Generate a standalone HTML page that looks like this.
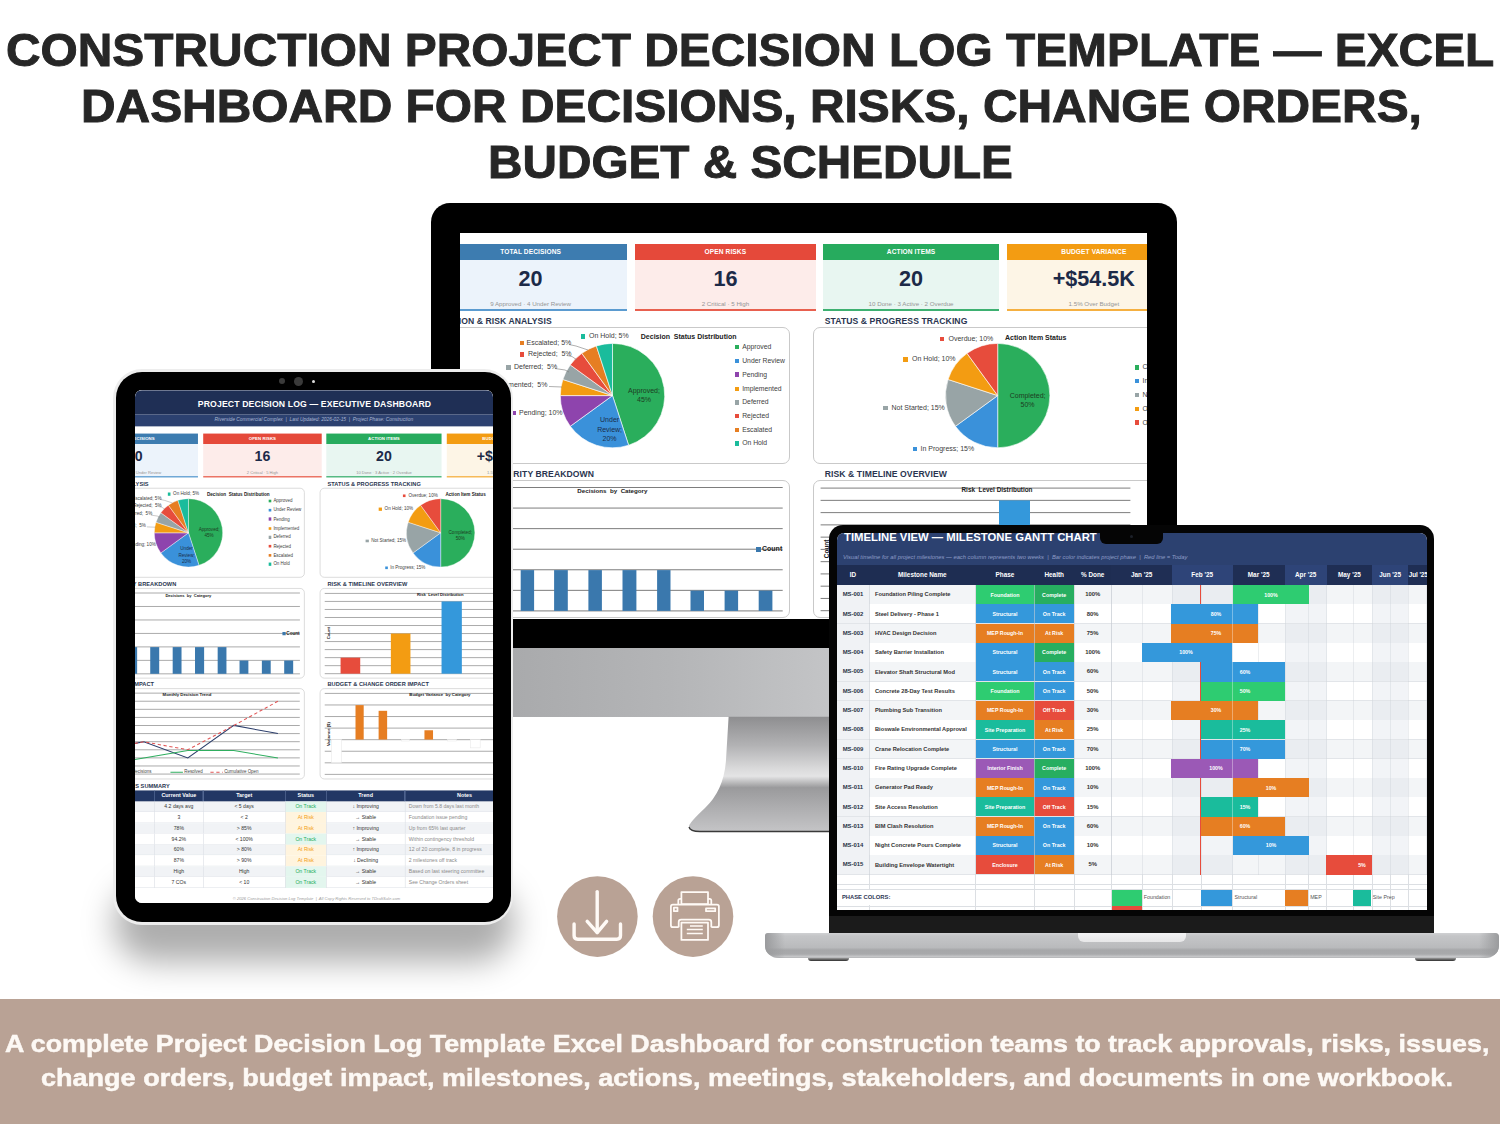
<!DOCTYPE html>
<html><head><meta charset="utf-8"><style>
*{margin:0;padding:0;box-sizing:border-box;}
html,body{width:1500px;height:1124px;overflow:hidden;background:#fff;}
body{position:relative;font-family:"Liberation Sans", sans-serif;}
div{position:absolute;}
.t{font-weight:bold;color:#262626;white-space:nowrap;transform-origin:0 0;-webkit-text-stroke:0.9px #262626;}
.b{-webkit-text-stroke:0.5px #fdf9f5;}
</style></head><body>

<div class="t" id="title0" style="left:6.0px;top:24.52px;font-size:45.5px;line-height:52.32px;transform:scaleX(1.052);">CONSTRUCTION PROJECT DECISION LOG TEMPLATE — EXCEL</div>
<div class="t" id="title1" style="left:81px;top:80.72px;font-size:45.5px;line-height:52.32px;transform:scaleX(1.0524);">DASHBOARD FOR DECISIONS, RISKS, CHANGE ORDERS,</div>
<div class="t" id="title2" style="left:488.3px;top:136.62px;font-size:45.5px;line-height:52.32px;transform:scaleX(1.0487);">BUDGET &amp; SCHEDULE</div>
<div style="left:430.70px;top:202.70px;width:746.60px;height:457.30px;background:#000;border-radius:19px 19px 0 0;"></div><div style="left:430.70px;top:647.50px;width:746.60px;height:69.30px;background:linear-gradient(90deg,#a6a7a9 0%,#a9aaac 11%,#b4b5b7 32%,#c3c4c6 53%,#c8c9cb 100%);"></div><svg style="position:absolute;left:0;top:0" width="1500" height="1124"><defs><linearGradient id="stg" x1="0" y1="0" x2="0" y2="1"><stop offset="0" stop-color="#8e8e90"/><stop offset="0.25" stop-color="#b2b2b4"/><stop offset="0.45" stop-color="#d9d9da"/><stop offset="0.52" stop-color="#e4e4e5"/><stop offset="0.62" stop-color="#9a9a9c"/><stop offset="0.8" stop-color="#aeaeb0"/><stop offset="1" stop-color="#c4c4c6"/></linearGradient></defs><path d="M728.6,716.8 L726,760 Q724,790 705,808 Q690,822 689,826 L689,829 Q690,831 700,831 L921,831 Q930,831 930,826 Q929,822 914,808 Q895,790 893,760 L890.4,716.8 Z" fill="url(#stg)"/><path d="M689,827 Q690,831.5 700,831.5 L921,831.5" stroke="#3a3a3a" stroke-width="1.3" fill="none"/></svg><div style="left:460px;top:233px;width:687.3px;height:386px;overflow:hidden;background:#fff;"><div style="left:-460px;top:-233px;width:1500px;height:1124px;"><div style="left:380px;top:170px;width:840px;height:810px;background:#fff;"></div><div style="left:380px;top:177.50px;width:840px;height:37.10px;background:#1f2f55;"></div><div style="left:505px;top:191.35px;width:600px;text-align:center;font-size:13.25px;line-height:15.90px;color:#fff;font-weight:bold;white-space:nowrap;letter-spacing:0.2px;">PROJECT DECISION LOG — EXECUTIVE DASHBOARD</div><div style="left:380px;top:214.60px;width:840px;height:18.30px;background:#2c4170;"></div><div style="left:504px;top:219.13px;width:600px;text-align:center;font-size:7.45px;line-height:8.94px;color:#a9b6d3;font-weight:normal;white-space:nowrap;font-style:italic;">Riverside Commercial Complex &nbsp;|&nbsp; Last Updated: 2026-02-15 &nbsp;|&nbsp; Project Phase: Construction</div><div style="left:434px;top:244.20px;width:193.20px;height:15.80px;background:#3d7cb0;"></div><div style="left:434px;top:260px;width:193.20px;height:49.20px;background:#ecf3fb;"></div><div style="left:434px;top:309.20px;width:193.20px;height:1.80px;background:#5b9bd0;"></div><div style="left:434px;top:248.34px;width:193.20px;text-align:center;font-size:6.60px;line-height:7.92px;color:#fff;font-weight:bold;white-space:nowrap;letter-spacing:0.1px;">TOTAL DECISIONS</div><div style="left:434px;top:266.04px;width:193.20px;text-align:center;font-size:21.60px;line-height:25.92px;color:#1c2a48;font-weight:bold;white-space:nowrap;">20</div><div style="left:434px;top:299.58px;width:193.20px;text-align:center;font-size:6.20px;line-height:7.44px;color:#959595;font-weight:normal;white-space:nowrap;">9 Approved · 4 Under Review</div><div style="left:635px;top:244.20px;width:180.80px;height:15.80px;background:#e5493a;"></div><div style="left:635px;top:260px;width:180.80px;height:49.20px;background:#fdecea;"></div><div style="left:635px;top:309.20px;width:180.80px;height:1.80px;background:#e8604f;"></div><div style="left:635px;top:248.34px;width:180.80px;text-align:center;font-size:6.60px;line-height:7.92px;color:#fff;font-weight:bold;white-space:nowrap;letter-spacing:0.1px;">OPEN RISKS</div><div style="left:635px;top:266.04px;width:180.80px;text-align:center;font-size:21.60px;line-height:25.92px;color:#1c2a48;font-weight:bold;white-space:nowrap;">16</div><div style="left:635px;top:299.58px;width:180.80px;text-align:center;font-size:6.20px;line-height:7.44px;color:#959595;font-weight:normal;white-space:nowrap;">2 Critical · 5 High</div><div style="left:823.30px;top:244.20px;width:175.50px;height:15.80px;background:#27ab5e;"></div><div style="left:823.30px;top:260px;width:175.50px;height:49.20px;background:#e8f6f1;"></div><div style="left:823.30px;top:309.20px;width:175.50px;height:1.80px;background:#3db071;"></div><div style="left:823.30px;top:248.34px;width:175.50px;text-align:center;font-size:6.60px;line-height:7.92px;color:#fff;font-weight:bold;white-space:nowrap;letter-spacing:0.1px;">ACTION ITEMS</div><div style="left:823.30px;top:266.04px;width:175.50px;text-align:center;font-size:21.60px;line-height:25.92px;color:#1c2a48;font-weight:bold;white-space:nowrap;">20</div><div style="left:823.30px;top:299.58px;width:175.50px;text-align:center;font-size:6.20px;line-height:7.44px;color:#959595;font-weight:normal;white-space:nowrap;">10 Done · 3 Active · 2 Overdue</div><div style="left:1006.70px;top:244.20px;width:174.30px;height:15.80px;background:#f39c12;"></div><div style="left:1006.70px;top:260px;width:174.30px;height:49.20px;background:#fdf5e6;"></div><div style="left:1006.70px;top:309.20px;width:174.30px;height:1.80px;background:#f5b041;"></div><div style="left:1006.70px;top:248.34px;width:174.30px;text-align:center;font-size:6.60px;line-height:7.92px;color:#fff;font-weight:bold;white-space:nowrap;letter-spacing:0.1px;">BUDGET VARIANCE</div><div style="left:1006.70px;top:266.04px;width:174.30px;text-align:center;font-size:21.60px;line-height:25.92px;color:#1c2a48;font-weight:bold;white-space:nowrap;">+$54.5K</div><div style="left:1006.70px;top:299.58px;width:174.30px;text-align:center;font-size:6.20px;line-height:7.44px;color:#959595;font-weight:normal;white-space:nowrap;">1.5% Over Budget</div><div style="left:432px;top:315.64px;font-size:8.60px;line-height:10.32px;color:#2a3550;font-weight:bold;white-space:nowrap;letter-spacing:0.08px;">DECISION &amp; RISK ANALYSIS</div><div style="left:824.80px;top:315.64px;font-size:8.60px;line-height:10.32px;color:#2a3550;font-weight:bold;white-space:nowrap;letter-spacing:0.08px;">STATUS &amp; PROGRESS TRACKING</div><div style="left:418px;top:326.60px;width:372px;height:137px;border:1px solid #c9c9c9;border-radius:7px;background:#fff;"></div><div style="left:812.50px;top:326.60px;width:377.50px;height:137px;border:1px solid #c9c9c9;border-radius:7px;background:#fff;"></div><div style="left:294px;top:468.84px;width:300px;text-align:right;font-size:8.60px;line-height:10.32px;color:#2a3550;font-weight:bold;white-space:nowrap;letter-spacing:0.08px;">CATEGORY &amp; PRIORITY BREAKDOWN</div><div style="left:824.80px;top:468.84px;font-size:8.60px;line-height:10.32px;color:#2a3550;font-weight:bold;white-space:nowrap;letter-spacing:0.08px;">RISK &amp; TIMELINE OVERVIEW</div><div style="left:418px;top:480.20px;width:372px;height:137.80px;border:1px solid #c9c9c9;border-radius:7px;background:#fff;"></div><div style="left:812.50px;top:480.20px;width:377.50px;height:137.80px;border:1px solid #c9c9c9;border-radius:7px;background:#fff;"></div><div style="left:260px;top:621.64px;width:300px;text-align:right;font-size:8.60px;line-height:10.32px;color:#2a3550;font-weight:bold;white-space:nowrap;letter-spacing:0.08px;">DECISION TIMELINE &amp; IMPACT</div><div style="left:824.80px;top:621.64px;font-size:8.60px;line-height:10.32px;color:#2a3550;font-weight:bold;white-space:nowrap;letter-spacing:0.08px;">BUDGET &amp; CHANGE ORDER IMPACT</div><div style="left:418px;top:632.60px;width:372px;height:139.40px;border:1px solid #c9c9c9;border-radius:7px;background:#fff;"></div><div style="left:812.50px;top:632.60px;width:377.50px;height:139.40px;border:1px solid #c9c9c9;border-radius:7px;background:#fff;"></div><svg style="position:absolute;left:0;top:0;overflow:visible" width="1" height="1"><path d="M612.50,395.60 L612.50,343.40 A52.2,52.2 0 0 1 628.63,445.25 Z" fill="#2aae5c" stroke="#fff" stroke-width="0.6" stroke-linejoin="round"/><path d="M612.50,395.60 L628.63,445.25 A52.2,52.2 0 0 1 570.27,426.28 Z" fill="#3a91da" stroke="#fff" stroke-width="0.6" stroke-linejoin="round"/><path d="M612.50,395.60 L570.27,426.28 A52.2,52.2 0 0 1 560.30,395.60 Z" fill="#8e44ad" stroke="#fff" stroke-width="0.6" stroke-linejoin="round"/><path d="M612.50,395.60 L560.30,395.60 A52.2,52.2 0 0 1 562.85,379.47 Z" fill="#f39c12" stroke="#fff" stroke-width="0.6" stroke-linejoin="round"/><path d="M612.50,395.60 L562.85,379.47 A52.2,52.2 0 0 1 570.27,364.92 Z" fill="#98a4a6" stroke="#fff" stroke-width="0.6" stroke-linejoin="round"/><path d="M612.50,395.60 L570.27,364.92 A52.2,52.2 0 0 1 581.82,353.37 Z" fill="#e74c3c" stroke="#fff" stroke-width="0.6" stroke-linejoin="round"/><path d="M612.50,395.60 L581.82,353.37 A52.2,52.2 0 0 1 596.37,345.95 Z" fill="#e67e22" stroke="#fff" stroke-width="0.6" stroke-linejoin="round"/><path d="M612.50,395.60 L596.37,345.95 A52.2,52.2 0 0 1 612.50,343.40 Z" fill="#1abc9c" stroke="#fff" stroke-width="0.6" stroke-linejoin="round"/><path d="M997.70,395.60 L997.70,343.40 A52.2,52.2 0 0 1 997.70,447.80 Z" fill="#2aae5c" stroke="#fff" stroke-width="0.6" stroke-linejoin="round"/><path d="M997.70,395.60 L997.70,447.80 A52.2,52.2 0 0 1 955.47,426.28 Z" fill="#3a91da" stroke="#fff" stroke-width="0.6" stroke-linejoin="round"/><path d="M997.70,395.60 L955.47,426.28 A52.2,52.2 0 0 1 948.05,379.47 Z" fill="#98a4a6" stroke="#fff" stroke-width="0.6" stroke-linejoin="round"/><path d="M997.70,395.60 L948.05,379.47 A52.2,52.2 0 0 1 967.02,353.37 Z" fill="#f39c12" stroke="#fff" stroke-width="0.6" stroke-linejoin="round"/><path d="M997.70,395.60 L967.02,353.37 A52.2,52.2 0 0 1 997.70,343.40 Z" fill="#e74c3c" stroke="#fff" stroke-width="0.6" stroke-linejoin="round"/><g stroke="#7a7a7a" stroke-width="0.6" fill="none"><path d="M569,344.5 L576,346 L588,350"/><path d="M567,355.5 L572,356.5 L577,360"/><path d="M555,368.5 L565,370 L569,372"/><path d="M549,386.5 L562,387"/></g><g stroke="#6e6e6e" stroke-width="0.9"><line x1="428" y1="487.50" x2="782.7" y2="487.50"/><line x1="428" y1="508.07" x2="782.7" y2="508.07"/><line x1="428" y1="528.64" x2="782.7" y2="528.64"/><line x1="428" y1="549.21" x2="782.7" y2="549.21"/><line x1="428" y1="569.78" x2="782.7" y2="569.78"/><line x1="428" y1="590.35" x2="782.7" y2="590.35"/><line x1="428" y1="610.92" x2="782.7" y2="610.92"/><line x1="820.6" y1="488.10" x2="1130.4" y2="488.10"/><line x1="820.6" y1="500.36" x2="1130.4" y2="500.36"/><line x1="820.6" y1="512.62" x2="1130.4" y2="512.62"/><line x1="820.6" y1="524.88" x2="1130.4" y2="524.88"/><line x1="820.6" y1="537.14" x2="1130.4" y2="537.14"/><line x1="820.6" y1="549.40" x2="1130.4" y2="549.40"/><line x1="820.6" y1="561.66" x2="1130.4" y2="561.66"/><line x1="820.6" y1="573.92" x2="1130.4" y2="573.92"/><line x1="820.6" y1="586.18" x2="1130.4" y2="586.18"/><line x1="820.6" y1="598.44" x2="1130.4" y2="598.44"/><line x1="820.6" y1="610.70" x2="1130.4" y2="610.70"/><line x1="428" y1="640.40" x2="782.5" y2="640.40"/><line x1="428" y1="652.76" x2="782.5" y2="652.76"/><line x1="428" y1="665.12" x2="782.5" y2="665.12"/><line x1="428" y1="677.48" x2="782.5" y2="677.48"/><line x1="428" y1="689.84" x2="782.5" y2="689.84"/><line x1="428" y1="702.20" x2="782.5" y2="702.20"/><line x1="428" y1="714.56" x2="782.5" y2="714.56"/><line x1="428" y1="726.92" x2="782.5" y2="726.92"/><line x1="428" y1="739.28" x2="782.5" y2="739.28"/><line x1="428" y1="751.64" x2="782.5" y2="751.64"/><line x1="428" y1="764.00" x2="782.5" y2="764.00"/><line x1="820.6" y1="640.80" x2="1130.4" y2="640.80"/><line x1="820.6" y1="658.47" x2="1130.4" y2="658.47"/><line x1="820.6" y1="676.14" x2="1130.4" y2="676.14"/><line x1="820.6" y1="693.81" x2="1130.4" y2="693.81"/><line x1="820.6" y1="711.48" x2="1130.4" y2="711.48"/><line x1="820.6" y1="729.15" x2="1130.4" y2="729.15"/><line x1="820.6" y1="746.82" x2="1130.4" y2="746.82"/><line x1="820.6" y1="764.49" x2="1130.4" y2="764.49"/></g><rect x="520.7" y="570.1" width="13.40" height="40.80" fill="#3a78ad"/><rect x="554.1" y="570.1" width="13.70" height="40.80" fill="#3a78ad"/><rect x="588.4" y="570.1" width="13.50" height="40.80" fill="#3a78ad"/><rect x="622.5" y="570.1" width="13.90" height="40.80" fill="#3a78ad"/><rect x="657.1" y="570.1" width="13.40" height="40.80" fill="#3a78ad"/><rect x="690.5" y="590.6" width="13.50" height="20.30" fill="#3a78ad"/><rect x="724.6" y="590.6" width="13.50" height="20.30" fill="#3a78ad"/><rect x="758.7" y="590.6" width="13.70" height="20.30" fill="#3a78ad"/><rect x="486.8" y="570.1" width="13.50" height="40.80" fill="#3a78ad"/><rect x="452.7" y="590.6" width="13.50" height="20.30" fill="#3a78ad"/><rect x="844.8" y="586.2" width="30.00" height="24.50" fill="#e74c3c"/><rect x="921.6" y="549.4" width="29.90" height="61.30" fill="#f39c12"/><rect x="999" y="500.4" width="31.00" height="110.30" fill="#3498db"/><polyline fill="none" stroke="#2c3e6b" stroke-width="1.6" points="477,726.9 544.3,714.7 611.5,739.5 681.7,689.7 749.1,702.2"/><polyline fill="none" stroke="#2fae5f" stroke-width="1.6" points="477,751.6 544.3,739.3 611.5,727.9 681.7,727.9 749.1,739.5"/><polyline fill="none" stroke="#e05555" stroke-width="1.6" stroke-dasharray="5,4" points="477,726.9 544.3,714.7 611.5,726.9 681.7,689.8 749.1,652.8"/><line x1="585" y1="761.3" x2="604" y2="761.3" stroke="#2fae5f" stroke-width="1.6"/><line x1="646" y1="761.3" x2="665" y2="761.3" stroke="#e05555" stroke-width="1.6" stroke-dasharray="5,4"/><rect x="830.8" y="711.3" width="15.40" height="35.30" fill="#fff" stroke="#e6e6e6" stroke-width="0.8"/><rect x="867.6" y="658.7" width="12.50" height="52.60" fill="#e67e22"/><rect x="902.9" y="667.4" width="13.00" height="43.90" fill="#e67e22"/><rect x="937.8" y="711.3" width="12.20" height="2.20" fill="#fff" stroke="#e6e6e6" stroke-width="0.8"/><rect x="972.9" y="697.1" width="13.10" height="14.20" fill="#e67e22"/><rect x="1008" y="711.3" width="14.00" height="2.20" fill="#fff" stroke="#e6e6e6" stroke-width="0.8"/><rect x="1043" y="711.3" width="15.00" height="12.70" fill="#fff" stroke="#e6e6e6" stroke-width="0.8"/></svg><div style="left:640.80px;top:332.80px;font-size:7px;line-height:8.40px;color:#222;font-weight:bold;white-space:nowrap;">Decision &nbsp;Status Distribution</div><div style="left:580.80px;top:334.20px;width:4.40px;height:4.40px;background:#1abc9c;"></div><div style="left:589px;top:332.20px;font-size:7px;line-height:8.40px;color:#404040;font-weight:normal;white-space:nowrap;">On Hold; 5%</div><div style="left:519.50px;top:341.10px;width:4.40px;height:4.40px;background:#e67e22;"></div><div style="left:526.50px;top:339.10px;font-size:7px;line-height:8.40px;color:#404040;font-weight:normal;white-space:nowrap;">Escalated; 5%</div><div style="left:520px;top:352.20px;width:4.40px;height:4.40px;background:#e74c3c;"></div><div style="left:528px;top:350.20px;font-size:7px;line-height:8.40px;color:#404040;font-weight:normal;white-space:nowrap;">Rejected; &nbsp;5%</div><div style="left:506.20px;top:365.30px;width:4.40px;height:4.40px;background:#98a4a6;"></div><div style="left:514px;top:363.30px;font-size:7px;line-height:8.40px;color:#404040;font-weight:normal;white-space:nowrap;">Deferred; &nbsp;5%</div><div style="left:484px;top:383.20px;width:4.40px;height:4.40px;background:#f39c12;"></div><div style="left:491px;top:381.20px;font-size:7px;line-height:8.40px;color:#404040;font-weight:normal;white-space:nowrap;">Implemented; &nbsp;5%</div><div style="left:512.10px;top:410.60px;width:4.40px;height:4.40px;background:#8e44ad;"></div><div style="left:519px;top:408.60px;font-size:7px;line-height:8.40px;color:#404040;font-weight:normal;white-space:nowrap;">Pending; 10%</div><div style="left:614px;top:386.80px;width:60px;text-align:center;font-size:7px;line-height:8.40px;color:#1d3d22;font-weight:normal;white-space:nowrap;">Approved;</div><div style="left:614px;top:395.50px;width:60px;text-align:center;font-size:7px;line-height:8.40px;color:#1d3d22;font-weight:normal;white-space:nowrap;">45%</div><div style="left:579.60px;top:416.40px;width:60px;text-align:center;font-size:7px;line-height:8.40px;color:#1b2e4a;font-weight:normal;white-space:nowrap;">Under</div><div style="left:579.60px;top:425.60px;width:60px;text-align:center;font-size:7px;line-height:8.40px;color:#1b2e4a;font-weight:normal;white-space:nowrap;">Review;</div><div style="left:579.60px;top:434.80px;width:60px;text-align:center;font-size:7px;line-height:8.40px;color:#1b2e4a;font-weight:normal;white-space:nowrap;">20%</div><div style="left:734.50px;top:345.10px;width:4.40px;height:4.40px;background:#2aae5c;"></div><div style="left:742.20px;top:343.22px;font-size:6.80px;line-height:8.16px;color:#404040;font-weight:normal;white-space:nowrap;">Approved</div><div style="left:734.50px;top:358.80px;width:4.40px;height:4.40px;background:#3a91da;"></div><div style="left:742.20px;top:356.92px;font-size:6.80px;line-height:8.16px;color:#404040;font-weight:normal;white-space:nowrap;">Under Review</div><div style="left:734.50px;top:372.40px;width:4.40px;height:4.40px;background:#8e44ad;"></div><div style="left:742.20px;top:370.52px;font-size:6.80px;line-height:8.16px;color:#404040;font-weight:normal;white-space:nowrap;">Pending</div><div style="left:734.50px;top:386.50px;width:4.40px;height:4.40px;background:#f39c12;"></div><div style="left:742.20px;top:384.62px;font-size:6.80px;line-height:8.16px;color:#404040;font-weight:normal;white-space:nowrap;">Implemented</div><div style="left:734.50px;top:400.30px;width:4.40px;height:4.40px;background:#98a4a6;"></div><div style="left:742.20px;top:398.42px;font-size:6.80px;line-height:8.16px;color:#404040;font-weight:normal;white-space:nowrap;">Deferred</div><div style="left:734.50px;top:414.10px;width:4.40px;height:4.40px;background:#e74c3c;"></div><div style="left:742.20px;top:412.22px;font-size:6.80px;line-height:8.16px;color:#404040;font-weight:normal;white-space:nowrap;">Rejected</div><div style="left:734.50px;top:427.60px;width:4.40px;height:4.40px;background:#e67e22;"></div><div style="left:742.20px;top:425.72px;font-size:6.80px;line-height:8.16px;color:#404040;font-weight:normal;white-space:nowrap;">Escalated</div><div style="left:734.50px;top:441.20px;width:4.40px;height:4.40px;background:#1abc9c;"></div><div style="left:742.20px;top:439.32px;font-size:6.80px;line-height:8.16px;color:#404040;font-weight:normal;white-space:nowrap;">On Hold</div><div style="left:1005px;top:333.60px;font-size:7px;line-height:8.40px;color:#222;font-weight:bold;white-space:nowrap;">Action Item Status</div><div style="left:940.10px;top:336.50px;width:4.40px;height:4.40px;background:#e74c3c;"></div><div style="left:948.50px;top:334.50px;font-size:7px;line-height:8.40px;color:#404040;font-weight:normal;white-space:nowrap;">Overdue; 10%</div><div style="left:903.30px;top:357.20px;width:4.40px;height:4.40px;background:#f39c12;"></div><div style="left:912px;top:355.20px;font-size:7px;line-height:8.40px;color:#404040;font-weight:normal;white-space:nowrap;">On Hold; 10%</div><div style="left:883.30px;top:406px;width:4.40px;height:4.40px;background:#98a4a6;"></div><div style="left:891.50px;top:404px;font-size:7px;line-height:8.40px;color:#404040;font-weight:normal;white-space:nowrap;">Not Started; 15%</div><div style="left:912.80px;top:446.50px;width:4.40px;height:4.40px;background:#3a91da;"></div><div style="left:920.50px;top:444.50px;font-size:7px;line-height:8.40px;color:#404040;font-weight:normal;white-space:nowrap;">In Progress; 15%</div><div style="left:997.60px;top:392.30px;width:60px;text-align:center;font-size:7px;line-height:8.40px;color:#1d3d22;font-weight:normal;white-space:nowrap;">Completed;</div><div style="left:997.60px;top:401.30px;width:60px;text-align:center;font-size:7px;line-height:8.40px;color:#1d3d22;font-weight:normal;white-space:nowrap;">50%</div><div style="left:1134.80px;top:365.30px;width:4.40px;height:4.40px;background:#2aae5c;"></div><div style="left:1142.50px;top:363.42px;font-size:6.80px;line-height:8.16px;color:#404040;font-weight:normal;white-space:nowrap;">Completed</div><div style="left:1134.80px;top:379.10px;width:4.40px;height:4.40px;background:#3a91da;"></div><div style="left:1142.50px;top:377.22px;font-size:6.80px;line-height:8.16px;color:#404040;font-weight:normal;white-space:nowrap;">In Progress</div><div style="left:1134.80px;top:392.80px;width:4.40px;height:4.40px;background:#98a4a6;"></div><div style="left:1142.50px;top:390.92px;font-size:6.80px;line-height:8.16px;color:#404040;font-weight:normal;white-space:nowrap;">Not Started</div><div style="left:1134.80px;top:406.60px;width:4.40px;height:4.40px;background:#f39c12;"></div><div style="left:1142.50px;top:404.72px;font-size:6.80px;line-height:8.16px;color:#404040;font-weight:normal;white-space:nowrap;">On Hold</div><div style="left:1134.80px;top:420.40px;width:4.40px;height:4.40px;background:#e74c3c;"></div><div style="left:1142.50px;top:418.52px;font-size:6.80px;line-height:8.16px;color:#404040;font-weight:normal;white-space:nowrap;">Overdue</div><div style="left:512.40px;top:486.68px;width:200px;text-align:center;font-size:6.20px;line-height:7.44px;color:#222;font-weight:bold;white-space:nowrap;">Decisions &nbsp;by &nbsp;Category</div><div style="left:756.20px;top:547.30px;width:4.40px;height:4.40px;background:#3a78ad;"></div><div style="left:762px;top:545.30px;font-size:7px;line-height:8.40px;color:#222;font-weight:bold;white-space:nowrap;">Count</div><div style="left:897px;top:486.16px;width:200px;text-align:center;font-size:6.40px;line-height:7.68px;color:#222;font-weight:bold;white-space:nowrap;">Risk &nbsp;Level Distribution</div><div style="left:807px;top:545.10px;width:40px;text-align:center;font-size:6.50px;line-height:7.80px;color:#222;font-weight:bold;white-space:nowrap;transform:rotate(-90deg);">Count</div><div style="left:510.20px;top:638.84px;width:200px;text-align:center;font-size:6.60px;line-height:7.92px;color:#222;font-weight:bold;white-space:nowrap;">Monthly Decision Trend</div><div style="left:490px;top:760.50px;width:19px;height:1.50px;background:#2c3e6b;"></div><div style="left:511px;top:757.22px;font-size:6.80px;line-height:8.16px;color:#444;font-weight:normal;white-space:nowrap;">New Decisions</div><div style="left:606px;top:757.22px;font-size:6.80px;line-height:8.16px;color:#444;font-weight:normal;white-space:nowrap;">Resolved</div><div style="left:667px;top:757.22px;font-size:6.80px;line-height:8.16px;color:#444;font-weight:normal;white-space:nowrap;">Cumulative Open</div><div style="left:896.50px;top:638.84px;width:200px;text-align:center;font-size:6.60px;line-height:7.92px;color:#222;font-weight:bold;white-space:nowrap;">Budget Variance &nbsp;by Category</div><div style="left:797.40px;top:699.10px;width:60px;text-align:center;font-size:6.50px;line-height:7.80px;color:#222;font-weight:bold;white-space:nowrap;transform:rotate(-90deg);">Variance ($)</div><div style="left:284px;top:777.04px;width:300px;text-align:right;font-size:8.60px;line-height:10.32px;color:#2a3550;font-weight:bold;white-space:nowrap;letter-spacing:0.08px;">KEY METRICS SUMMARY</div><div style="left:418px;top:788.50px;width:707px;height:17.10px;background:#223764;"></div><div style="left:418px;top:792.08px;width:142.60px;text-align:center;font-size:8.20px;line-height:9.84px;color:#fff;font-weight:bold;white-space:nowrap;">Metric</div><div style="left:560.60px;top:792.08px;width:74.40px;text-align:center;font-size:8.20px;line-height:9.84px;color:#fff;font-weight:bold;white-space:nowrap;">Current Value</div><div style="left:560px;top:788.50px;width:1.20px;height:17.10px;background:#5a6f9a;"></div><div style="left:635px;top:792.08px;width:125.20px;text-align:center;font-size:8.20px;line-height:9.84px;color:#fff;font-weight:bold;white-space:nowrap;">Target</div><div style="left:634.40px;top:788.50px;width:1.20px;height:17.10px;background:#5a6f9a;"></div><div style="left:760.20px;top:792.08px;width:62.90px;text-align:center;font-size:8.20px;line-height:9.84px;color:#fff;font-weight:bold;white-space:nowrap;">Status</div><div style="left:759.60px;top:788.50px;width:1.20px;height:17.10px;background:#5a6f9a;"></div><div style="left:823.10px;top:792.08px;width:119.90px;text-align:center;font-size:8.20px;line-height:9.84px;color:#fff;font-weight:bold;white-space:nowrap;">Trend</div><div style="left:822.50px;top:788.50px;width:1.20px;height:17.10px;background:#5a6f9a;"></div><div style="left:943px;top:792.08px;width:182px;text-align:center;font-size:8.20px;line-height:9.84px;color:#fff;font-weight:bold;white-space:nowrap;">Notes</div><div style="left:942.40px;top:788.50px;width:1.20px;height:17.10px;background:#5a6f9a;"></div><div style="left:418px;top:805.60px;width:707px;height:16.54px;background:#f1f3f6;border-bottom:1px solid #e4e7ec;"></div><div style="left:760.20px;top:805.60px;width:62.90px;height:16.54px;background:#e3f6ee;"></div><div style="left:560.10px;top:805.60px;width:1px;height:16.54px;background:#dde1e7;"></div><div style="left:634.50px;top:805.60px;width:1px;height:16.54px;background:#dde1e7;"></div><div style="left:759.70px;top:805.60px;width:1px;height:16.54px;background:#dde1e7;"></div><div style="left:822.60px;top:805.60px;width:1px;height:16.54px;background:#dde1e7;"></div><div style="left:942.50px;top:805.60px;width:1px;height:16.54px;background:#dde1e7;"></div><div style="left:562.80px;top:809.19px;width:70px;text-align:center;font-size:7.80px;line-height:9.36px;color:#333;font-weight:normal;white-space:nowrap;">4.2 days avg</div><div style="left:637.60px;top:809.19px;width:120px;text-align:center;font-size:7.80px;line-height:9.36px;color:#333;font-weight:normal;white-space:nowrap;">&lt; 5 days</div><div style="left:761.65px;top:809.19px;width:60px;text-align:center;font-size:7.80px;line-height:9.36px;color:#27ae60;font-weight:normal;white-space:nowrap;">On Track</div><div style="left:828.05px;top:809.19px;width:110px;text-align:center;font-size:7.80px;line-height:9.36px;color:#333;font-weight:normal;white-space:nowrap;">↓ Improving</div><div style="left:949px;top:809.19px;font-size:7.80px;line-height:9.36px;color:#8a8a8a;font-weight:normal;white-space:nowrap;">Down from 5.8 days last month</div><div style="left:418px;top:822.14px;width:707px;height:16.54px;background:#ffffff;border-bottom:1px solid #e4e7ec;"></div><div style="left:760.20px;top:822.14px;width:62.90px;height:16.54px;background:#fff4de;"></div><div style="left:560.10px;top:822.14px;width:1px;height:16.54px;background:#dde1e7;"></div><div style="left:634.50px;top:822.14px;width:1px;height:16.54px;background:#dde1e7;"></div><div style="left:759.70px;top:822.14px;width:1px;height:16.54px;background:#dde1e7;"></div><div style="left:822.60px;top:822.14px;width:1px;height:16.54px;background:#dde1e7;"></div><div style="left:942.50px;top:822.14px;width:1px;height:16.54px;background:#dde1e7;"></div><div style="left:562.80px;top:825.73px;width:70px;text-align:center;font-size:7.80px;line-height:9.36px;color:#333;font-weight:normal;white-space:nowrap;">3</div><div style="left:637.60px;top:825.73px;width:120px;text-align:center;font-size:7.80px;line-height:9.36px;color:#333;font-weight:normal;white-space:nowrap;">&lt; 2</div><div style="left:761.65px;top:825.73px;width:60px;text-align:center;font-size:7.80px;line-height:9.36px;color:#f39c12;font-weight:normal;white-space:nowrap;">At Risk</div><div style="left:828.05px;top:825.73px;width:110px;text-align:center;font-size:7.80px;line-height:9.36px;color:#333;font-weight:normal;white-space:nowrap;">→ Stable</div><div style="left:949px;top:825.73px;font-size:7.80px;line-height:9.36px;color:#8a8a8a;font-weight:normal;white-space:nowrap;">Foundation issue pending</div><div style="left:418px;top:838.68px;width:707px;height:16.54px;background:#f1f3f6;border-bottom:1px solid #e4e7ec;"></div><div style="left:760.20px;top:838.68px;width:62.90px;height:16.54px;background:#fff4de;"></div><div style="left:560.10px;top:838.68px;width:1px;height:16.54px;background:#dde1e7;"></div><div style="left:634.50px;top:838.68px;width:1px;height:16.54px;background:#dde1e7;"></div><div style="left:759.70px;top:838.68px;width:1px;height:16.54px;background:#dde1e7;"></div><div style="left:822.60px;top:838.68px;width:1px;height:16.54px;background:#dde1e7;"></div><div style="left:942.50px;top:838.68px;width:1px;height:16.54px;background:#dde1e7;"></div><div style="left:562.80px;top:842.27px;width:70px;text-align:center;font-size:7.80px;line-height:9.36px;color:#333;font-weight:normal;white-space:nowrap;">78%</div><div style="left:637.60px;top:842.27px;width:120px;text-align:center;font-size:7.80px;line-height:9.36px;color:#333;font-weight:normal;white-space:nowrap;">&gt; 85%</div><div style="left:761.65px;top:842.27px;width:60px;text-align:center;font-size:7.80px;line-height:9.36px;color:#f39c12;font-weight:normal;white-space:nowrap;">At Risk</div><div style="left:828.05px;top:842.27px;width:110px;text-align:center;font-size:7.80px;line-height:9.36px;color:#333;font-weight:normal;white-space:nowrap;">↑ Improving</div><div style="left:949px;top:842.27px;font-size:7.80px;line-height:9.36px;color:#8a8a8a;font-weight:normal;white-space:nowrap;">Up from 65% last quarter</div><div style="left:418px;top:855.22px;width:707px;height:16.54px;background:#ffffff;border-bottom:1px solid #e4e7ec;"></div><div style="left:760.20px;top:855.22px;width:62.90px;height:16.54px;background:#e3f6ee;"></div><div style="left:560.10px;top:855.22px;width:1px;height:16.54px;background:#dde1e7;"></div><div style="left:634.50px;top:855.22px;width:1px;height:16.54px;background:#dde1e7;"></div><div style="left:759.70px;top:855.22px;width:1px;height:16.54px;background:#dde1e7;"></div><div style="left:822.60px;top:855.22px;width:1px;height:16.54px;background:#dde1e7;"></div><div style="left:942.50px;top:855.22px;width:1px;height:16.54px;background:#dde1e7;"></div><div style="left:562.80px;top:858.81px;width:70px;text-align:center;font-size:7.80px;line-height:9.36px;color:#333;font-weight:normal;white-space:nowrap;">94.2%</div><div style="left:637.60px;top:858.81px;width:120px;text-align:center;font-size:7.80px;line-height:9.36px;color:#333;font-weight:normal;white-space:nowrap;">&lt; 100%</div><div style="left:761.65px;top:858.81px;width:60px;text-align:center;font-size:7.80px;line-height:9.36px;color:#27ae60;font-weight:normal;white-space:nowrap;">On Track</div><div style="left:828.05px;top:858.81px;width:110px;text-align:center;font-size:7.80px;line-height:9.36px;color:#333;font-weight:normal;white-space:nowrap;">→ Stable</div><div style="left:949px;top:858.81px;font-size:7.80px;line-height:9.36px;color:#8a8a8a;font-weight:normal;white-space:nowrap;">Within contingency threshold</div><div style="left:418px;top:871.76px;width:707px;height:16.54px;background:#f1f3f6;border-bottom:1px solid #e4e7ec;"></div><div style="left:760.20px;top:871.76px;width:62.90px;height:16.54px;background:#fff4de;"></div><div style="left:560.10px;top:871.76px;width:1px;height:16.54px;background:#dde1e7;"></div><div style="left:634.50px;top:871.76px;width:1px;height:16.54px;background:#dde1e7;"></div><div style="left:759.70px;top:871.76px;width:1px;height:16.54px;background:#dde1e7;"></div><div style="left:822.60px;top:871.76px;width:1px;height:16.54px;background:#dde1e7;"></div><div style="left:942.50px;top:871.76px;width:1px;height:16.54px;background:#dde1e7;"></div><div style="left:562.80px;top:875.35px;width:70px;text-align:center;font-size:7.80px;line-height:9.36px;color:#333;font-weight:normal;white-space:nowrap;">60%</div><div style="left:637.60px;top:875.35px;width:120px;text-align:center;font-size:7.80px;line-height:9.36px;color:#333;font-weight:normal;white-space:nowrap;">&gt; 80%</div><div style="left:761.65px;top:875.35px;width:60px;text-align:center;font-size:7.80px;line-height:9.36px;color:#f39c12;font-weight:normal;white-space:nowrap;">At Risk</div><div style="left:828.05px;top:875.35px;width:110px;text-align:center;font-size:7.80px;line-height:9.36px;color:#333;font-weight:normal;white-space:nowrap;">↑ Improving</div><div style="left:949px;top:875.35px;font-size:7.80px;line-height:9.36px;color:#8a8a8a;font-weight:normal;white-space:nowrap;">12 of 20 complete, 8 in progress</div><div style="left:418px;top:888.30px;width:707px;height:16.54px;background:#ffffff;border-bottom:1px solid #e4e7ec;"></div><div style="left:760.20px;top:888.30px;width:62.90px;height:16.54px;background:#fff4de;"></div><div style="left:560.10px;top:888.30px;width:1px;height:16.54px;background:#dde1e7;"></div><div style="left:634.50px;top:888.30px;width:1px;height:16.54px;background:#dde1e7;"></div><div style="left:759.70px;top:888.30px;width:1px;height:16.54px;background:#dde1e7;"></div><div style="left:822.60px;top:888.30px;width:1px;height:16.54px;background:#dde1e7;"></div><div style="left:942.50px;top:888.30px;width:1px;height:16.54px;background:#dde1e7;"></div><div style="left:562.80px;top:891.89px;width:70px;text-align:center;font-size:7.80px;line-height:9.36px;color:#333;font-weight:normal;white-space:nowrap;">87%</div><div style="left:637.60px;top:891.89px;width:120px;text-align:center;font-size:7.80px;line-height:9.36px;color:#333;font-weight:normal;white-space:nowrap;">&gt; 90%</div><div style="left:761.65px;top:891.89px;width:60px;text-align:center;font-size:7.80px;line-height:9.36px;color:#f39c12;font-weight:normal;white-space:nowrap;">At Risk</div><div style="left:828.05px;top:891.89px;width:110px;text-align:center;font-size:7.80px;line-height:9.36px;color:#333;font-weight:normal;white-space:nowrap;">↓ Declining</div><div style="left:949px;top:891.89px;font-size:7.80px;line-height:9.36px;color:#8a8a8a;font-weight:normal;white-space:nowrap;">2 milestones off track</div><div style="left:418px;top:904.84px;width:707px;height:16.54px;background:#f1f3f6;border-bottom:1px solid #e4e7ec;"></div><div style="left:760.20px;top:904.84px;width:62.90px;height:16.54px;background:#e3f6ee;"></div><div style="left:560.10px;top:904.84px;width:1px;height:16.54px;background:#dde1e7;"></div><div style="left:634.50px;top:904.84px;width:1px;height:16.54px;background:#dde1e7;"></div><div style="left:759.70px;top:904.84px;width:1px;height:16.54px;background:#dde1e7;"></div><div style="left:822.60px;top:904.84px;width:1px;height:16.54px;background:#dde1e7;"></div><div style="left:942.50px;top:904.84px;width:1px;height:16.54px;background:#dde1e7;"></div><div style="left:562.80px;top:908.43px;width:70px;text-align:center;font-size:7.80px;line-height:9.36px;color:#333;font-weight:normal;white-space:nowrap;">High</div><div style="left:637.60px;top:908.43px;width:120px;text-align:center;font-size:7.80px;line-height:9.36px;color:#333;font-weight:normal;white-space:nowrap;">High</div><div style="left:761.65px;top:908.43px;width:60px;text-align:center;font-size:7.80px;line-height:9.36px;color:#27ae60;font-weight:normal;white-space:nowrap;">On Track</div><div style="left:828.05px;top:908.43px;width:110px;text-align:center;font-size:7.80px;line-height:9.36px;color:#333;font-weight:normal;white-space:nowrap;">→ Stable</div><div style="left:949px;top:908.43px;font-size:7.80px;line-height:9.36px;color:#8a8a8a;font-weight:normal;white-space:nowrap;">Based on last steering committee</div><div style="left:418px;top:921.38px;width:707px;height:16.54px;background:#ffffff;border-bottom:1px solid #e4e7ec;"></div><div style="left:760.20px;top:921.38px;width:62.90px;height:16.54px;background:#e3f6ee;"></div><div style="left:560.10px;top:921.38px;width:1px;height:16.54px;background:#dde1e7;"></div><div style="left:634.50px;top:921.38px;width:1px;height:16.54px;background:#dde1e7;"></div><div style="left:759.70px;top:921.38px;width:1px;height:16.54px;background:#dde1e7;"></div><div style="left:822.60px;top:921.38px;width:1px;height:16.54px;background:#dde1e7;"></div><div style="left:942.50px;top:921.38px;width:1px;height:16.54px;background:#dde1e7;"></div><div style="left:562.80px;top:924.97px;width:70px;text-align:center;font-size:7.80px;line-height:9.36px;color:#333;font-weight:normal;white-space:nowrap;">7 COs</div><div style="left:637.60px;top:924.97px;width:120px;text-align:center;font-size:7.80px;line-height:9.36px;color:#333;font-weight:normal;white-space:nowrap;">&lt; 10</div><div style="left:761.65px;top:924.97px;width:60px;text-align:center;font-size:7.80px;line-height:9.36px;color:#27ae60;font-weight:normal;white-space:nowrap;">On Track</div><div style="left:828.05px;top:924.97px;width:110px;text-align:center;font-size:7.80px;line-height:9.36px;color:#333;font-weight:normal;white-space:nowrap;">→ Stable</div><div style="left:949px;top:924.97px;font-size:7.80px;line-height:9.36px;color:#8a8a8a;font-weight:normal;white-space:nowrap;">See Change Orders sheet</div><div style="left:558px;top:951.22px;width:500px;text-align:center;font-size:6.30px;line-height:7.56px;color:#a0a0a0;font-weight:normal;white-space:nowrap;font-style:italic;">© 2026 Construction Decision Log Template &nbsp;|&nbsp; All Copy Rights Reserved to TDraftSale.com</div></div></div>
<div style="left:829.30px;top:525.30px;width:604.70px;height:407.70px;background:#050505;border-radius:14px 14px 0 0;"></div><div style="left:829.30px;top:916px;width:604.70px;height:17px;background:#1b1b1b;"></div><div style="left:837px;top:532.7px;width:589.7px;height:377.3px;overflow:hidden;border-radius:7px 7px 0 0;background:#fff;"><div style="left:-837px;top:-532.7px;width:1500px;height:1124px;"><div style="left:837px;top:532.70px;width:589.70px;height:32.30px;background:#2c4170;"></div><div id="gtitle" style="left:844px;top:530.67px;font-size:11.3px;line-height:13px;font-weight:bold;color:#fff;white-space:nowrap;transform-origin:0 0;">TIMELINE VIEW — MILESTONE GANTT CHART</div><div style="left:843px;top:553.92px;font-size:5.80px;line-height:6.96px;color:#8d9cc6;font-weight:normal;white-space:nowrap;font-style:italic;">Visual timeline for all project milestones — each column represents two weeks &nbsp;|&nbsp; Bar color indicates project phase &nbsp;|&nbsp; Red line = Today</div><div style="left:837px;top:565px;width:589.70px;height:20.10px;background:#1e2d52;"></div><div style="left:832px;top:571.16px;width:42px;text-align:center;font-size:6.40px;line-height:7.68px;color:#fff;font-weight:bold;white-space:nowrap;">ID</div><div style="left:864px;top:571.16px;width:116.60px;text-align:center;font-size:6.40px;line-height:7.68px;color:#fff;font-weight:bold;white-space:nowrap;">Milestone Name</div><div style="left:970.60px;top:571.16px;width:68.80px;text-align:center;font-size:6.40px;line-height:7.68px;color:#fff;font-weight:bold;white-space:nowrap;">Phase</div><div style="left:1029.40px;top:571.16px;width:49.60px;text-align:center;font-size:6.40px;line-height:7.68px;color:#fff;font-weight:bold;white-space:nowrap;">Health</div><div style="left:1069px;top:571.16px;width:47.40px;text-align:center;font-size:6.40px;line-height:7.68px;color:#fff;font-weight:bold;white-space:nowrap;">% Done</div><div style="left:1111.40px;top:565px;width:60.60px;height:20.10px;background:#1f2e54;"></div><div style="left:1111.70px;top:571.16px;width:60px;text-align:center;font-size:6.40px;line-height:7.68px;color:#fff;font-weight:bold;white-space:nowrap;">Jan '25</div><div style="left:1172px;top:565px;width:60.50px;height:20.10px;background:#2e4478;"></div><div style="left:1172.25px;top:571.16px;width:60px;text-align:center;font-size:6.40px;line-height:7.68px;color:#fff;font-weight:bold;white-space:nowrap;">Feb '25</div><div style="left:1232.50px;top:565px;width:52.30px;height:20.10px;background:#1f2e54;"></div><div style="left:1228.65px;top:571.16px;width:60px;text-align:center;font-size:6.40px;line-height:7.68px;color:#fff;font-weight:bold;white-space:nowrap;">Mar '25</div><div style="left:1284.80px;top:565px;width:41.80px;height:20.10px;background:#2e4478;"></div><div style="left:1275.70px;top:571.16px;width:60px;text-align:center;font-size:6.40px;line-height:7.68px;color:#fff;font-weight:bold;white-space:nowrap;">Apr '25</div><div style="left:1326.60px;top:565px;width:45.60px;height:20.10px;background:#1f2e54;"></div><div style="left:1319.40px;top:571.16px;width:60px;text-align:center;font-size:6.40px;line-height:7.68px;color:#fff;font-weight:bold;white-space:nowrap;">May '25</div><div style="left:1372.20px;top:565px;width:35.80px;height:20.10px;background:#2e4478;"></div><div style="left:1360.10px;top:571.16px;width:60px;text-align:center;font-size:6.40px;line-height:7.68px;color:#fff;font-weight:bold;white-space:nowrap;">Jun '25</div><div style="left:1408px;top:565px;width:32px;height:20.10px;background:#1f2e54;"></div><div style="left:1408.80px;top:571.16px;font-size:6.40px;line-height:7.68px;color:#fff;font-weight:bold;white-space:nowrap;letter-spacing:-0.1px;">Jul '25</div><div style="left:837px;top:585.10px;width:589.70px;height:19.30px;background:#f3f5f7;"></div><div style="left:1172px;top:585.10px;width:60.50px;height:19.30px;background:#eaedf1;"></div><div style="left:1284.80px;top:585.10px;width:41.80px;height:19.30px;background:#eaedf1;"></div><div style="left:1372.20px;top:585.10px;width:35.80px;height:19.30px;background:#eaedf1;"></div><div style="left:837px;top:585.10px;width:32px;height:19.30px;background:#f0f2f5;"></div><div style="left:975.60px;top:585.10px;width:58.80px;height:19.30px;background:#2ecc71;"></div><div style="left:1034.40px;top:585.10px;width:39.60px;height:19.30px;background:#27ae60;"></div><div style="left:837px;top:603.90px;width:589.70px;height:0.70px;background:#e2e5e9;"></div><div style="left:833px;top:591.21px;width:40px;text-align:center;font-size:5.90px;line-height:7.08px;color:#2a3346;font-weight:bold;white-space:nowrap;">MS-001</div><div style="left:875px;top:591.33px;font-size:5.70px;line-height:6.84px;color:#333;font-weight:bold;white-space:nowrap;">Foundation Piling Complete</div><div style="left:975px;top:591.57px;width:60px;text-align:center;font-size:5.30px;line-height:6.36px;color:#fff;font-weight:bold;white-space:nowrap;">Foundation</div><div style="left:1034.20px;top:591.57px;width:40px;text-align:center;font-size:5.30px;line-height:6.36px;color:#fff;font-weight:bold;white-space:nowrap;">Complete</div><div style="left:1072.70px;top:591.21px;width:40px;text-align:center;font-size:5.90px;line-height:7.08px;color:#333;font-weight:bold;white-space:nowrap;">100%</div><div style="left:837px;top:604.40px;width:589.70px;height:19.30px;background:#ffffff;"></div><div style="left:1172px;top:604.40px;width:60.50px;height:19.30px;background:#f2f4f7;"></div><div style="left:1284.80px;top:604.40px;width:41.80px;height:19.30px;background:#f2f4f7;"></div><div style="left:1372.20px;top:604.40px;width:35.80px;height:19.30px;background:#f2f4f7;"></div><div style="left:837px;top:604.40px;width:32px;height:19.30px;background:#f0f2f5;"></div><div style="left:975.60px;top:604.40px;width:58.80px;height:19.30px;background:#3498db;"></div><div style="left:1034.40px;top:604.40px;width:39.60px;height:19.30px;background:#3498db;"></div><div style="left:837px;top:623.20px;width:589.70px;height:0.70px;background:#e2e5e9;"></div><div style="left:833px;top:610.51px;width:40px;text-align:center;font-size:5.90px;line-height:7.08px;color:#2a3346;font-weight:bold;white-space:nowrap;">MS-002</div><div style="left:875px;top:610.63px;font-size:5.70px;line-height:6.84px;color:#333;font-weight:bold;white-space:nowrap;">Steel Delivery - Phase 1</div><div style="left:975px;top:610.87px;width:60px;text-align:center;font-size:5.30px;line-height:6.36px;color:#fff;font-weight:bold;white-space:nowrap;">Structural</div><div style="left:1034.20px;top:610.87px;width:40px;text-align:center;font-size:5.30px;line-height:6.36px;color:#fff;font-weight:bold;white-space:nowrap;">On Track</div><div style="left:1072.70px;top:610.51px;width:40px;text-align:center;font-size:5.90px;line-height:7.08px;color:#333;font-weight:bold;white-space:nowrap;">80%</div><div style="left:837px;top:623.70px;width:589.70px;height:19.30px;background:#f3f5f7;"></div><div style="left:1172px;top:623.70px;width:60.50px;height:19.30px;background:#eaedf1;"></div><div style="left:1284.80px;top:623.70px;width:41.80px;height:19.30px;background:#eaedf1;"></div><div style="left:1372.20px;top:623.70px;width:35.80px;height:19.30px;background:#eaedf1;"></div><div style="left:837px;top:623.70px;width:32px;height:19.30px;background:#f0f2f5;"></div><div style="left:975.60px;top:623.70px;width:58.80px;height:19.30px;background:#e67e22;"></div><div style="left:1034.40px;top:623.70px;width:39.60px;height:19.30px;background:#e67e22;"></div><div style="left:837px;top:642.50px;width:589.70px;height:0.70px;background:#e2e5e9;"></div><div style="left:833px;top:629.81px;width:40px;text-align:center;font-size:5.90px;line-height:7.08px;color:#2a3346;font-weight:bold;white-space:nowrap;">MS-003</div><div style="left:875px;top:629.93px;font-size:5.70px;line-height:6.84px;color:#333;font-weight:bold;white-space:nowrap;">HVAC Design Decision</div><div style="left:975px;top:630.17px;width:60px;text-align:center;font-size:5.30px;line-height:6.36px;color:#fff;font-weight:bold;white-space:nowrap;">MEP Rough-In</div><div style="left:1034.20px;top:630.17px;width:40px;text-align:center;font-size:5.30px;line-height:6.36px;color:#fff;font-weight:bold;white-space:nowrap;">At Risk</div><div style="left:1072.70px;top:629.81px;width:40px;text-align:center;font-size:5.90px;line-height:7.08px;color:#333;font-weight:bold;white-space:nowrap;">75%</div><div style="left:837px;top:643px;width:589.70px;height:19.30px;background:#ffffff;"></div><div style="left:1172px;top:643px;width:60.50px;height:19.30px;background:#f2f4f7;"></div><div style="left:1284.80px;top:643px;width:41.80px;height:19.30px;background:#f2f4f7;"></div><div style="left:1372.20px;top:643px;width:35.80px;height:19.30px;background:#f2f4f7;"></div><div style="left:837px;top:643px;width:32px;height:19.30px;background:#f0f2f5;"></div><div style="left:975.60px;top:643px;width:58.80px;height:19.30px;background:#3498db;"></div><div style="left:1034.40px;top:643px;width:39.60px;height:19.30px;background:#27ae60;"></div><div style="left:837px;top:661.80px;width:589.70px;height:0.70px;background:#e2e5e9;"></div><div style="left:833px;top:649.11px;width:40px;text-align:center;font-size:5.90px;line-height:7.08px;color:#2a3346;font-weight:bold;white-space:nowrap;">MS-004</div><div style="left:875px;top:649.23px;font-size:5.70px;line-height:6.84px;color:#333;font-weight:bold;white-space:nowrap;">Safety Barrier Installation</div><div style="left:975px;top:649.47px;width:60px;text-align:center;font-size:5.30px;line-height:6.36px;color:#fff;font-weight:bold;white-space:nowrap;">Structural</div><div style="left:1034.20px;top:649.47px;width:40px;text-align:center;font-size:5.30px;line-height:6.36px;color:#fff;font-weight:bold;white-space:nowrap;">Complete</div><div style="left:1072.70px;top:649.11px;width:40px;text-align:center;font-size:5.90px;line-height:7.08px;color:#333;font-weight:bold;white-space:nowrap;">100%</div><div style="left:837px;top:662.30px;width:589.70px;height:19.30px;background:#f3f5f7;"></div><div style="left:1172px;top:662.30px;width:60.50px;height:19.30px;background:#eaedf1;"></div><div style="left:1284.80px;top:662.30px;width:41.80px;height:19.30px;background:#eaedf1;"></div><div style="left:1372.20px;top:662.30px;width:35.80px;height:19.30px;background:#eaedf1;"></div><div style="left:837px;top:662.30px;width:32px;height:19.30px;background:#f0f2f5;"></div><div style="left:975.60px;top:662.30px;width:58.80px;height:19.30px;background:#3498db;"></div><div style="left:1034.40px;top:662.30px;width:39.60px;height:19.30px;background:#3498db;"></div><div style="left:837px;top:681.10px;width:589.70px;height:0.70px;background:#e2e5e9;"></div><div style="left:833px;top:668.41px;width:40px;text-align:center;font-size:5.90px;line-height:7.08px;color:#2a3346;font-weight:bold;white-space:nowrap;">MS-005</div><div style="left:875px;top:668.53px;font-size:5.70px;line-height:6.84px;color:#333;font-weight:bold;white-space:nowrap;">Elevator Shaft Structural Mod</div><div style="left:975px;top:668.77px;width:60px;text-align:center;font-size:5.30px;line-height:6.36px;color:#fff;font-weight:bold;white-space:nowrap;">Structural</div><div style="left:1034.20px;top:668.77px;width:40px;text-align:center;font-size:5.30px;line-height:6.36px;color:#fff;font-weight:bold;white-space:nowrap;">On Track</div><div style="left:1072.70px;top:668.41px;width:40px;text-align:center;font-size:5.90px;line-height:7.08px;color:#333;font-weight:bold;white-space:nowrap;">60%</div><div style="left:837px;top:681.60px;width:589.70px;height:19.30px;background:#ffffff;"></div><div style="left:1172px;top:681.60px;width:60.50px;height:19.30px;background:#f2f4f7;"></div><div style="left:1284.80px;top:681.60px;width:41.80px;height:19.30px;background:#f2f4f7;"></div><div style="left:1372.20px;top:681.60px;width:35.80px;height:19.30px;background:#f2f4f7;"></div><div style="left:837px;top:681.60px;width:32px;height:19.30px;background:#f0f2f5;"></div><div style="left:975.60px;top:681.60px;width:58.80px;height:19.30px;background:#2ecc71;"></div><div style="left:1034.40px;top:681.60px;width:39.60px;height:19.30px;background:#3498db;"></div><div style="left:837px;top:700.40px;width:589.70px;height:0.70px;background:#e2e5e9;"></div><div style="left:833px;top:687.71px;width:40px;text-align:center;font-size:5.90px;line-height:7.08px;color:#2a3346;font-weight:bold;white-space:nowrap;">MS-006</div><div style="left:875px;top:687.83px;font-size:5.70px;line-height:6.84px;color:#333;font-weight:bold;white-space:nowrap;">Concrete 28-Day Test Results</div><div style="left:975px;top:688.07px;width:60px;text-align:center;font-size:5.30px;line-height:6.36px;color:#fff;font-weight:bold;white-space:nowrap;">Foundation</div><div style="left:1034.20px;top:688.07px;width:40px;text-align:center;font-size:5.30px;line-height:6.36px;color:#fff;font-weight:bold;white-space:nowrap;">On Track</div><div style="left:1072.70px;top:687.71px;width:40px;text-align:center;font-size:5.90px;line-height:7.08px;color:#333;font-weight:bold;white-space:nowrap;">50%</div><div style="left:837px;top:700.90px;width:589.70px;height:19.30px;background:#f3f5f7;"></div><div style="left:1172px;top:700.90px;width:60.50px;height:19.30px;background:#eaedf1;"></div><div style="left:1284.80px;top:700.90px;width:41.80px;height:19.30px;background:#eaedf1;"></div><div style="left:1372.20px;top:700.90px;width:35.80px;height:19.30px;background:#eaedf1;"></div><div style="left:837px;top:700.90px;width:32px;height:19.30px;background:#f0f2f5;"></div><div style="left:975.60px;top:700.90px;width:58.80px;height:19.30px;background:#e67e22;"></div><div style="left:1034.40px;top:700.90px;width:39.60px;height:19.30px;background:#e74c3c;"></div><div style="left:837px;top:719.70px;width:589.70px;height:0.70px;background:#e2e5e9;"></div><div style="left:833px;top:707.01px;width:40px;text-align:center;font-size:5.90px;line-height:7.08px;color:#2a3346;font-weight:bold;white-space:nowrap;">MS-007</div><div style="left:875px;top:707.13px;font-size:5.70px;line-height:6.84px;color:#333;font-weight:bold;white-space:nowrap;">Plumbing Sub Transition</div><div style="left:975px;top:707.37px;width:60px;text-align:center;font-size:5.30px;line-height:6.36px;color:#fff;font-weight:bold;white-space:nowrap;">MEP Rough-In</div><div style="left:1034.20px;top:707.37px;width:40px;text-align:center;font-size:5.30px;line-height:6.36px;color:#fff;font-weight:bold;white-space:nowrap;">Off Track</div><div style="left:1072.70px;top:707.01px;width:40px;text-align:center;font-size:5.90px;line-height:7.08px;color:#333;font-weight:bold;white-space:nowrap;">30%</div><div style="left:837px;top:720.20px;width:589.70px;height:19.30px;background:#ffffff;"></div><div style="left:1172px;top:720.20px;width:60.50px;height:19.30px;background:#f2f4f7;"></div><div style="left:1284.80px;top:720.20px;width:41.80px;height:19.30px;background:#f2f4f7;"></div><div style="left:1372.20px;top:720.20px;width:35.80px;height:19.30px;background:#f2f4f7;"></div><div style="left:837px;top:720.20px;width:32px;height:19.30px;background:#f0f2f5;"></div><div style="left:975.60px;top:720.20px;width:58.80px;height:19.30px;background:#1abc9c;"></div><div style="left:1034.40px;top:720.20px;width:39.60px;height:19.30px;background:#e67e22;"></div><div style="left:837px;top:739px;width:589.70px;height:0.70px;background:#e2e5e9;"></div><div style="left:833px;top:726.31px;width:40px;text-align:center;font-size:5.90px;line-height:7.08px;color:#2a3346;font-weight:bold;white-space:nowrap;">MS-008</div><div style="left:875px;top:726.43px;font-size:5.70px;line-height:6.84px;color:#333;font-weight:bold;white-space:nowrap;">Bioswale Environmental Approval</div><div style="left:975px;top:726.67px;width:60px;text-align:center;font-size:5.30px;line-height:6.36px;color:#fff;font-weight:bold;white-space:nowrap;">Site Preparation</div><div style="left:1034.20px;top:726.67px;width:40px;text-align:center;font-size:5.30px;line-height:6.36px;color:#fff;font-weight:bold;white-space:nowrap;">At Risk</div><div style="left:1072.70px;top:726.31px;width:40px;text-align:center;font-size:5.90px;line-height:7.08px;color:#333;font-weight:bold;white-space:nowrap;">25%</div><div style="left:837px;top:739.50px;width:589.70px;height:19.30px;background:#f3f5f7;"></div><div style="left:1172px;top:739.50px;width:60.50px;height:19.30px;background:#eaedf1;"></div><div style="left:1284.80px;top:739.50px;width:41.80px;height:19.30px;background:#eaedf1;"></div><div style="left:1372.20px;top:739.50px;width:35.80px;height:19.30px;background:#eaedf1;"></div><div style="left:837px;top:739.50px;width:32px;height:19.30px;background:#f0f2f5;"></div><div style="left:975.60px;top:739.50px;width:58.80px;height:19.30px;background:#3498db;"></div><div style="left:1034.40px;top:739.50px;width:39.60px;height:19.30px;background:#3498db;"></div><div style="left:837px;top:758.30px;width:589.70px;height:0.70px;background:#e2e5e9;"></div><div style="left:833px;top:745.61px;width:40px;text-align:center;font-size:5.90px;line-height:7.08px;color:#2a3346;font-weight:bold;white-space:nowrap;">MS-009</div><div style="left:875px;top:745.73px;font-size:5.70px;line-height:6.84px;color:#333;font-weight:bold;white-space:nowrap;">Crane Relocation Complete</div><div style="left:975px;top:745.97px;width:60px;text-align:center;font-size:5.30px;line-height:6.36px;color:#fff;font-weight:bold;white-space:nowrap;">Structural</div><div style="left:1034.20px;top:745.97px;width:40px;text-align:center;font-size:5.30px;line-height:6.36px;color:#fff;font-weight:bold;white-space:nowrap;">On Track</div><div style="left:1072.70px;top:745.61px;width:40px;text-align:center;font-size:5.90px;line-height:7.08px;color:#333;font-weight:bold;white-space:nowrap;">70%</div><div style="left:837px;top:758.80px;width:589.70px;height:19.30px;background:#ffffff;"></div><div style="left:1172px;top:758.80px;width:60.50px;height:19.30px;background:#f2f4f7;"></div><div style="left:1284.80px;top:758.80px;width:41.80px;height:19.30px;background:#f2f4f7;"></div><div style="left:1372.20px;top:758.80px;width:35.80px;height:19.30px;background:#f2f4f7;"></div><div style="left:837px;top:758.80px;width:32px;height:19.30px;background:#f0f2f5;"></div><div style="left:975.60px;top:758.80px;width:58.80px;height:19.30px;background:#9b59b6;"></div><div style="left:1034.40px;top:758.80px;width:39.60px;height:19.30px;background:#27ae60;"></div><div style="left:837px;top:777.60px;width:589.70px;height:0.70px;background:#e2e5e9;"></div><div style="left:833px;top:764.91px;width:40px;text-align:center;font-size:5.90px;line-height:7.08px;color:#2a3346;font-weight:bold;white-space:nowrap;">MS-010</div><div style="left:875px;top:765.03px;font-size:5.70px;line-height:6.84px;color:#333;font-weight:bold;white-space:nowrap;">Fire Rating Upgrade Complete</div><div style="left:975px;top:765.27px;width:60px;text-align:center;font-size:5.30px;line-height:6.36px;color:#fff;font-weight:bold;white-space:nowrap;">Interior Finish</div><div style="left:1034.20px;top:765.27px;width:40px;text-align:center;font-size:5.30px;line-height:6.36px;color:#fff;font-weight:bold;white-space:nowrap;">Complete</div><div style="left:1072.70px;top:764.91px;width:40px;text-align:center;font-size:5.90px;line-height:7.08px;color:#333;font-weight:bold;white-space:nowrap;">100%</div><div style="left:837px;top:778.10px;width:589.70px;height:19.30px;background:#f3f5f7;"></div><div style="left:1172px;top:778.10px;width:60.50px;height:19.30px;background:#eaedf1;"></div><div style="left:1284.80px;top:778.10px;width:41.80px;height:19.30px;background:#eaedf1;"></div><div style="left:1372.20px;top:778.10px;width:35.80px;height:19.30px;background:#eaedf1;"></div><div style="left:837px;top:778.10px;width:32px;height:19.30px;background:#f0f2f5;"></div><div style="left:975.60px;top:778.10px;width:58.80px;height:19.30px;background:#e67e22;"></div><div style="left:1034.40px;top:778.10px;width:39.60px;height:19.30px;background:#3498db;"></div><div style="left:837px;top:796.90px;width:589.70px;height:0.70px;background:#e2e5e9;"></div><div style="left:833px;top:784.21px;width:40px;text-align:center;font-size:5.90px;line-height:7.08px;color:#2a3346;font-weight:bold;white-space:nowrap;">MS-011</div><div style="left:875px;top:784.33px;font-size:5.70px;line-height:6.84px;color:#333;font-weight:bold;white-space:nowrap;">Generator Pad Ready</div><div style="left:975px;top:784.57px;width:60px;text-align:center;font-size:5.30px;line-height:6.36px;color:#fff;font-weight:bold;white-space:nowrap;">MEP Rough-In</div><div style="left:1034.20px;top:784.57px;width:40px;text-align:center;font-size:5.30px;line-height:6.36px;color:#fff;font-weight:bold;white-space:nowrap;">On Track</div><div style="left:1072.70px;top:784.21px;width:40px;text-align:center;font-size:5.90px;line-height:7.08px;color:#333;font-weight:bold;white-space:nowrap;">10%</div><div style="left:837px;top:797.40px;width:589.70px;height:19.30px;background:#ffffff;"></div><div style="left:1172px;top:797.40px;width:60.50px;height:19.30px;background:#f2f4f7;"></div><div style="left:1284.80px;top:797.40px;width:41.80px;height:19.30px;background:#f2f4f7;"></div><div style="left:1372.20px;top:797.40px;width:35.80px;height:19.30px;background:#f2f4f7;"></div><div style="left:837px;top:797.40px;width:32px;height:19.30px;background:#f0f2f5;"></div><div style="left:975.60px;top:797.40px;width:58.80px;height:19.30px;background:#1abc9c;"></div><div style="left:1034.40px;top:797.40px;width:39.60px;height:19.30px;background:#e74c3c;"></div><div style="left:837px;top:816.20px;width:589.70px;height:0.70px;background:#e2e5e9;"></div><div style="left:833px;top:803.51px;width:40px;text-align:center;font-size:5.90px;line-height:7.08px;color:#2a3346;font-weight:bold;white-space:nowrap;">MS-012</div><div style="left:875px;top:803.63px;font-size:5.70px;line-height:6.84px;color:#333;font-weight:bold;white-space:nowrap;">Site Access Resolution</div><div style="left:975px;top:803.87px;width:60px;text-align:center;font-size:5.30px;line-height:6.36px;color:#fff;font-weight:bold;white-space:nowrap;">Site Preparation</div><div style="left:1034.20px;top:803.87px;width:40px;text-align:center;font-size:5.30px;line-height:6.36px;color:#fff;font-weight:bold;white-space:nowrap;">Off Track</div><div style="left:1072.70px;top:803.51px;width:40px;text-align:center;font-size:5.90px;line-height:7.08px;color:#333;font-weight:bold;white-space:nowrap;">15%</div><div style="left:837px;top:816.70px;width:589.70px;height:19.30px;background:#f3f5f7;"></div><div style="left:1172px;top:816.70px;width:60.50px;height:19.30px;background:#eaedf1;"></div><div style="left:1284.80px;top:816.70px;width:41.80px;height:19.30px;background:#eaedf1;"></div><div style="left:1372.20px;top:816.70px;width:35.80px;height:19.30px;background:#eaedf1;"></div><div style="left:837px;top:816.70px;width:32px;height:19.30px;background:#f0f2f5;"></div><div style="left:975.60px;top:816.70px;width:58.80px;height:19.30px;background:#e67e22;"></div><div style="left:1034.40px;top:816.70px;width:39.60px;height:19.30px;background:#3498db;"></div><div style="left:837px;top:835.50px;width:589.70px;height:0.70px;background:#e2e5e9;"></div><div style="left:833px;top:822.81px;width:40px;text-align:center;font-size:5.90px;line-height:7.08px;color:#2a3346;font-weight:bold;white-space:nowrap;">MS-013</div><div style="left:875px;top:822.93px;font-size:5.70px;line-height:6.84px;color:#333;font-weight:bold;white-space:nowrap;">BIM Clash Resolution</div><div style="left:975px;top:823.17px;width:60px;text-align:center;font-size:5.30px;line-height:6.36px;color:#fff;font-weight:bold;white-space:nowrap;">MEP Rough-In</div><div style="left:1034.20px;top:823.17px;width:40px;text-align:center;font-size:5.30px;line-height:6.36px;color:#fff;font-weight:bold;white-space:nowrap;">On Track</div><div style="left:1072.70px;top:822.81px;width:40px;text-align:center;font-size:5.90px;line-height:7.08px;color:#333;font-weight:bold;white-space:nowrap;">60%</div><div style="left:837px;top:836px;width:589.70px;height:19.30px;background:#ffffff;"></div><div style="left:1172px;top:836px;width:60.50px;height:19.30px;background:#f2f4f7;"></div><div style="left:1284.80px;top:836px;width:41.80px;height:19.30px;background:#f2f4f7;"></div><div style="left:1372.20px;top:836px;width:35.80px;height:19.30px;background:#f2f4f7;"></div><div style="left:837px;top:836px;width:32px;height:19.30px;background:#f0f2f5;"></div><div style="left:975.60px;top:836px;width:58.80px;height:19.30px;background:#3498db;"></div><div style="left:1034.40px;top:836px;width:39.60px;height:19.30px;background:#3498db;"></div><div style="left:837px;top:854.80px;width:589.70px;height:0.70px;background:#e2e5e9;"></div><div style="left:833px;top:842.11px;width:40px;text-align:center;font-size:5.90px;line-height:7.08px;color:#2a3346;font-weight:bold;white-space:nowrap;">MS-014</div><div style="left:875px;top:842.23px;font-size:5.70px;line-height:6.84px;color:#333;font-weight:bold;white-space:nowrap;">Night Concrete Pours Complete</div><div style="left:975px;top:842.47px;width:60px;text-align:center;font-size:5.30px;line-height:6.36px;color:#fff;font-weight:bold;white-space:nowrap;">Structural</div><div style="left:1034.20px;top:842.47px;width:40px;text-align:center;font-size:5.30px;line-height:6.36px;color:#fff;font-weight:bold;white-space:nowrap;">On Track</div><div style="left:1072.70px;top:842.11px;width:40px;text-align:center;font-size:5.90px;line-height:7.08px;color:#333;font-weight:bold;white-space:nowrap;">10%</div><div style="left:837px;top:855.30px;width:589.70px;height:19.30px;background:#f3f5f7;"></div><div style="left:1172px;top:855.30px;width:60.50px;height:19.30px;background:#eaedf1;"></div><div style="left:1284.80px;top:855.30px;width:41.80px;height:19.30px;background:#eaedf1;"></div><div style="left:1372.20px;top:855.30px;width:35.80px;height:19.30px;background:#eaedf1;"></div><div style="left:837px;top:855.30px;width:32px;height:19.30px;background:#f0f2f5;"></div><div style="left:975.60px;top:855.30px;width:58.80px;height:19.30px;background:#e74c3c;"></div><div style="left:1034.40px;top:855.30px;width:39.60px;height:19.30px;background:#e67e22;"></div><div style="left:837px;top:874.10px;width:589.70px;height:0.70px;background:#e2e5e9;"></div><div style="left:833px;top:861.41px;width:40px;text-align:center;font-size:5.90px;line-height:7.08px;color:#2a3346;font-weight:bold;white-space:nowrap;">MS-015</div><div style="left:875px;top:861.53px;font-size:5.70px;line-height:6.84px;color:#333;font-weight:bold;white-space:nowrap;">Building Envelope Watertight</div><div style="left:975px;top:861.77px;width:60px;text-align:center;font-size:5.30px;line-height:6.36px;color:#fff;font-weight:bold;white-space:nowrap;">Enclosure</div><div style="left:1034.20px;top:861.77px;width:40px;text-align:center;font-size:5.30px;line-height:6.36px;color:#fff;font-weight:bold;white-space:nowrap;">At Risk</div><div style="left:1072.70px;top:861.41px;width:40px;text-align:center;font-size:5.90px;line-height:7.08px;color:#333;font-weight:bold;white-space:nowrap;">5%</div><div style="left:1111.10px;top:585.10px;width:0.60px;height:289.50px;background:rgba(200,205,212,0.35);"></div><div style="left:1141.50px;top:585.10px;width:0.60px;height:289.50px;background:rgba(200,205,212,0.35);"></div><div style="left:1171.70px;top:585.10px;width:0.60px;height:289.50px;background:rgba(200,205,212,0.35);"></div><div style="left:1200.90px;top:585.10px;width:0.60px;height:289.50px;background:rgba(200,205,212,0.35);"></div><div style="left:1232.20px;top:585.10px;width:0.60px;height:289.50px;background:rgba(200,205,212,0.35);"></div><div style="left:1257.70px;top:585.10px;width:0.60px;height:289.50px;background:rgba(200,205,212,0.35);"></div><div style="left:1284.50px;top:585.10px;width:0.60px;height:289.50px;background:rgba(200,205,212,0.35);"></div><div style="left:1307.70px;top:585.10px;width:0.60px;height:289.50px;background:rgba(200,205,212,0.35);"></div><div style="left:1326.30px;top:585.10px;width:0.60px;height:289.50px;background:rgba(200,205,212,0.35);"></div><div style="left:1352.70px;top:585.10px;width:0.60px;height:289.50px;background:rgba(200,205,212,0.35);"></div><div style="left:1371.90px;top:585.10px;width:0.60px;height:289.50px;background:rgba(200,205,212,0.35);"></div><div style="left:1390.10px;top:585.10px;width:0.60px;height:289.50px;background:rgba(200,205,212,0.35);"></div><div style="left:1407.70px;top:585.10px;width:0.60px;height:289.50px;background:rgba(200,205,212,0.35);"></div><div style="left:1426.40px;top:585.10px;width:0.60px;height:289.50px;background:rgba(200,205,212,0.35);"></div><div style="left:1200.10px;top:585.10px;width:1px;height:289.50px;background:#e74c3c;"></div><div style="left:868.70px;top:585.10px;width:0.60px;height:324.90px;background:rgba(200,205,212,0.6);"></div><div style="left:975.30px;top:585.10px;width:0.60px;height:324.90px;background:rgba(200,205,212,0.6);"></div><div style="left:1034.10px;top:585.10px;width:0.60px;height:324.90px;background:rgba(200,205,212,0.6);"></div><div style="left:1073.70px;top:585.10px;width:0.60px;height:324.90px;background:rgba(200,205,212,0.6);"></div><div style="left:1111.10px;top:585.10px;width:0.60px;height:324.90px;background:rgba(200,205,212,0.6);"></div><div style="left:1232.50px;top:585.10px;width:76.20px;height:19.30px;background:#2ecc71;"></div><div style="left:1171.30px;top:604.40px;width:87.10px;height:19.30px;background:#3498db;"></div><div style="left:1232.10px;top:604.40px;width:0.80px;height:19.30px;background:rgba(255,255,255,0.35);"></div><div style="left:1171.30px;top:623.70px;width:87.10px;height:19.30px;background:#e67e22;"></div><div style="left:1232.10px;top:623.70px;width:0.80px;height:19.30px;background:rgba(255,255,255,0.35);"></div><div style="left:1141.90px;top:643px;width:90.60px;height:19.30px;background:#3498db;"></div><div style="left:1200.80px;top:662.30px;width:83.80px;height:19.30px;background:#3498db;"></div><div style="left:1232.10px;top:662.30px;width:0.80px;height:19.30px;background:rgba(255,255,255,0.35);"></div><div style="left:1200.80px;top:681.60px;width:83.80px;height:19.30px;background:#2ecc71;"></div><div style="left:1232.10px;top:681.60px;width:0.80px;height:19.30px;background:rgba(255,255,255,0.35);"></div><div style="left:1171.30px;top:700.90px;width:87.10px;height:19.30px;background:#e67e22;"></div><div style="left:1232.10px;top:700.90px;width:0.80px;height:19.30px;background:rgba(255,255,255,0.35);"></div><div style="left:1200.80px;top:720.20px;width:83.80px;height:19.30px;background:#1abc9c;"></div><div style="left:1232.10px;top:720.20px;width:0.80px;height:19.30px;background:rgba(255,255,255,0.35);"></div><div style="left:1200.80px;top:739.50px;width:83.80px;height:19.30px;background:#3498db;"></div><div style="left:1232.10px;top:739.50px;width:0.80px;height:19.30px;background:rgba(255,255,255,0.35);"></div><div style="left:1171.30px;top:758.80px;width:87.10px;height:19.30px;background:#9b59b6;"></div><div style="left:1232.10px;top:758.80px;width:0.80px;height:19.30px;background:rgba(255,255,255,0.35);"></div><div style="left:1232.50px;top:778.10px;width:76.20px;height:19.30px;background:#e67e22;"></div><div style="left:1200.80px;top:797.40px;width:57.60px;height:19.30px;background:#1abc9c;"></div><div style="left:1232.10px;top:797.40px;width:0.80px;height:19.30px;background:rgba(255,255,255,0.35);"></div><div style="left:1200.80px;top:816.70px;width:83.80px;height:19.30px;background:#e67e22;"></div><div style="left:1232.10px;top:816.70px;width:0.80px;height:19.30px;background:rgba(255,255,255,0.35);"></div><div style="left:1232.50px;top:836px;width:76.20px;height:19.30px;background:#3498db;"></div><div style="left:1326.30px;top:855.30px;width:45.40px;height:19.30px;background:#e74c3c;"></div><div style="left:1256px;top:591.57px;width:30px;text-align:center;font-size:5.30px;line-height:6.36px;color:#fff;font-weight:bold;white-space:nowrap;">100%</div><div style="left:1201px;top:610.87px;width:30px;text-align:center;font-size:5.30px;line-height:6.36px;color:#fff;font-weight:bold;white-space:nowrap;">80%</div><div style="left:1201px;top:630.17px;width:30px;text-align:center;font-size:5.30px;line-height:6.36px;color:#fff;font-weight:bold;white-space:nowrap;">75%</div><div style="left:1171px;top:649.47px;width:30px;text-align:center;font-size:5.30px;line-height:6.36px;color:#fff;font-weight:bold;white-space:nowrap;">100%</div><div style="left:1230px;top:668.77px;width:30px;text-align:center;font-size:5.30px;line-height:6.36px;color:#fff;font-weight:bold;white-space:nowrap;">60%</div><div style="left:1230px;top:688.07px;width:30px;text-align:center;font-size:5.30px;line-height:6.36px;color:#fff;font-weight:bold;white-space:nowrap;">50%</div><div style="left:1201px;top:707.37px;width:30px;text-align:center;font-size:5.30px;line-height:6.36px;color:#fff;font-weight:bold;white-space:nowrap;">30%</div><div style="left:1230px;top:726.67px;width:30px;text-align:center;font-size:5.30px;line-height:6.36px;color:#fff;font-weight:bold;white-space:nowrap;">25%</div><div style="left:1230px;top:745.97px;width:30px;text-align:center;font-size:5.30px;line-height:6.36px;color:#fff;font-weight:bold;white-space:nowrap;">70%</div><div style="left:1201px;top:765.27px;width:30px;text-align:center;font-size:5.30px;line-height:6.36px;color:#fff;font-weight:bold;white-space:nowrap;">100%</div><div style="left:1256px;top:784.57px;width:30px;text-align:center;font-size:5.30px;line-height:6.36px;color:#fff;font-weight:bold;white-space:nowrap;">10%</div><div style="left:1230px;top:803.87px;width:30px;text-align:center;font-size:5.30px;line-height:6.36px;color:#fff;font-weight:bold;white-space:nowrap;">15%</div><div style="left:1230px;top:823.17px;width:30px;text-align:center;font-size:5.30px;line-height:6.36px;color:#fff;font-weight:bold;white-space:nowrap;">60%</div><div style="left:1256px;top:842.47px;width:30px;text-align:center;font-size:5.30px;line-height:6.36px;color:#fff;font-weight:bold;white-space:nowrap;">10%</div><div style="left:1347px;top:861.77px;width:30px;text-align:center;font-size:5.30px;line-height:6.36px;color:#fff;font-weight:bold;white-space:nowrap;">5%</div><div style="left:837px;top:874.60px;width:589.70px;height:35.40px;background:#fff;"></div><div style="left:868.70px;top:874.60px;width:0.60px;height:35.40px;background:#dcdfe3;"></div><div style="left:975.30px;top:874.60px;width:0.60px;height:35.40px;background:#dcdfe3;"></div><div style="left:1034.10px;top:874.60px;width:0.60px;height:35.40px;background:#dcdfe3;"></div><div style="left:1073.70px;top:874.60px;width:0.60px;height:35.40px;background:#dcdfe3;"></div><div style="left:1111.10px;top:874.60px;width:0.60px;height:35.40px;background:#dcdfe3;"></div><div style="left:1141.50px;top:874.60px;width:0.60px;height:35.40px;background:#dcdfe3;"></div><div style="left:1171.70px;top:874.60px;width:0.60px;height:35.40px;background:#dcdfe3;"></div><div style="left:1200.90px;top:874.60px;width:0.60px;height:35.40px;background:#dcdfe3;"></div><div style="left:1232.20px;top:874.60px;width:0.60px;height:35.40px;background:#dcdfe3;"></div><div style="left:1284.50px;top:874.60px;width:0.60px;height:35.40px;background:#dcdfe3;"></div><div style="left:1307.70px;top:874.60px;width:0.60px;height:35.40px;background:#dcdfe3;"></div><div style="left:1326.30px;top:874.60px;width:0.60px;height:35.40px;background:#dcdfe3;"></div><div style="left:1352.70px;top:874.60px;width:0.60px;height:35.40px;background:#dcdfe3;"></div><div style="left:1371.90px;top:874.60px;width:0.60px;height:35.40px;background:#dcdfe3;"></div><div style="left:1390.10px;top:874.60px;width:0.60px;height:35.40px;background:#dcdfe3;"></div><div style="left:1407.70px;top:874.60px;width:0.60px;height:35.40px;background:#dcdfe3;"></div><div style="left:837px;top:884px;width:589.70px;height:0.60px;background:#dcdfe3;"></div><div style="left:837px;top:889.30px;width:589.70px;height:0.60px;background:#dcdfe3;"></div><div style="left:837px;top:905.60px;width:589.70px;height:0.60px;background:#dcdfe3;"></div><div style="left:868px;top:890.20px;width:2px;height:15.20px;background:#fff;"></div><div style="left:842px;top:894.02px;font-size:5.80px;line-height:6.96px;color:#2c3654;font-weight:bold;white-space:nowrap;">PHASE COLORS:</div><div style="left:1111.50px;top:889.60px;width:30.30px;height:16px;background:#2ecc71;"></div><div style="left:1143.80px;top:894.32px;font-size:5.30px;line-height:6.36px;color:#555;font-weight:normal;white-space:nowrap;">Foundation</div><div style="left:1200.80px;top:889.60px;width:31.70px;height:16px;background:#3498db;"></div><div style="left:1234.50px;top:894.32px;font-size:5.30px;line-height:6.36px;color:#555;font-weight:normal;white-space:nowrap;">Structural</div><div style="left:1284.60px;top:889.60px;width:23.60px;height:16px;background:#e67e22;"></div><div style="left:1310.20px;top:894.32px;font-size:5.30px;line-height:6.36px;color:#555;font-weight:normal;white-space:nowrap;">MEP</div><div style="left:1352.60px;top:889.60px;width:18.20px;height:16px;background:#1abc9c;"></div><div style="left:1372.80px;top:894.32px;font-size:5.30px;line-height:6.36px;color:#555;font-weight:normal;white-space:nowrap;">Site Prep</div><div style="left:1111.50px;top:906.20px;width:30.30px;height:5.80px;background:#e74c3c;"></div></div></div><div style="left:1100px;top:525.30px;width:63px;height:18.70px;background:#050505;border-radius:0 0 6px 6px;"></div><div style="left:1130px;top:535.30px;width:3.20px;height:3.20px;background:#1c2029;border-radius:50%;"></div><div style="left:764.5px;top:932.8px;width:734.5px;height:25.4px;border-radius:3px 4px 14px 14px / 3px 4px 12px 12px;background:linear-gradient(180deg,#d0d1d3 0%,#c4c5c7 12%,#bebfc1 40%,#b9babc 58%,#a6a7a9 68%,#a8a9ab 84%,#c5c6c8 94%,#b3b4b6 100%);"></div><div style="left:764.5px;top:932.8px;width:20px;height:25.4px;border-radius:3px 0 0 14px / 3px 0 0 12px;background:linear-gradient(90deg,#9a9b9d,rgba(190,191,193,0));"></div><div style="left:1479px;top:932.8px;width:20px;height:25.4px;border-radius:0 4px 14px 0 / 0 4px 12px 0;background:linear-gradient(270deg,#9a9b9d,rgba(190,191,193,0));"></div><div style="left:1077.5px;top:933px;width:108.5px;height:8.5px;border-radius:0 0 6px 6px;background:linear-gradient(180deg,#f4f4f5,#e6e6e7);"></div><div style="left:807.60px;top:957.80px;width:41.10px;height:3.50px;background:linear-gradient(180deg,#9a9a9a,#2e2e2e);border-radius:0 0 5px 5px;"></div><div style="left:1414.70px;top:957.80px;width:41.30px;height:3.50px;background:linear-gradient(180deg,#9a9a9a,#2e2e2e);border-radius:0 0 5px 5px;"></div>
<div style="left:114px;top:884px;width:400px;height:78px;border-radius:40px;background:rgba(0,0,0,0.32);filter:blur(16px);"></div><div style="left:113.30px;top:368.80px;width:400px;height:556px;background:#ededed;border-radius:29px;"></div><div style="left:116px;top:371.80px;width:394.80px;height:550.20px;background:#000;border-radius:26px;"></div><div style="left:279px;top:378px;width:6.40px;height:6.40px;background:#3a3a3a;border-radius:50%;"></div><div style="left:293.50px;top:376.60px;width:9px;height:9px;background:#3a3a3a;border-radius:50%;"></div><div style="left:311.80px;top:379.60px;width:3px;height:3px;background:#dcdcdc;border-radius:50%;"></div><div style="left:134.5px;top:390.3px;width:358.1px;height:513.1px;overflow:hidden;border-radius:7px;background:#fff;"><div style="left:0;top:0;width:1500px;height:1124px;transform-origin:0 0;transform:translate(-347.6px,-116.2px) scale(0.6548);"><div style="left:380px;top:170px;width:840px;height:810px;background:#fff;"></div><div style="left:380px;top:177.50px;width:840px;height:37.10px;background:#1f2f55;"></div><div style="left:505px;top:191.35px;width:600px;text-align:center;font-size:13.25px;line-height:15.90px;color:#fff;font-weight:bold;white-space:nowrap;letter-spacing:0.2px;">PROJECT DECISION LOG — EXECUTIVE DASHBOARD</div><div style="left:380px;top:214.60px;width:840px;height:18.30px;background:#2c4170;"></div><div style="left:504px;top:219.13px;width:600px;text-align:center;font-size:7.45px;line-height:8.94px;color:#a9b6d3;font-weight:normal;white-space:nowrap;font-style:italic;">Riverside Commercial Complex &nbsp;|&nbsp; Last Updated: 2026-02-15 &nbsp;|&nbsp; Project Phase: Construction</div><div style="left:434px;top:244.20px;width:193.20px;height:15.80px;background:#3d7cb0;"></div><div style="left:434px;top:260px;width:193.20px;height:49.20px;background:#ecf3fb;"></div><div style="left:434px;top:309.20px;width:193.20px;height:1.80px;background:#5b9bd0;"></div><div style="left:434px;top:248.34px;width:193.20px;text-align:center;font-size:6.60px;line-height:7.92px;color:#fff;font-weight:bold;white-space:nowrap;letter-spacing:0.1px;">TOTAL DECISIONS</div><div style="left:434px;top:266.04px;width:193.20px;text-align:center;font-size:21.60px;line-height:25.92px;color:#1c2a48;font-weight:bold;white-space:nowrap;">20</div><div style="left:434px;top:299.58px;width:193.20px;text-align:center;font-size:6.20px;line-height:7.44px;color:#959595;font-weight:normal;white-space:nowrap;">9 Approved · 4 Under Review</div><div style="left:635px;top:244.20px;width:180.80px;height:15.80px;background:#e5493a;"></div><div style="left:635px;top:260px;width:180.80px;height:49.20px;background:#fdecea;"></div><div style="left:635px;top:309.20px;width:180.80px;height:1.80px;background:#e8604f;"></div><div style="left:635px;top:248.34px;width:180.80px;text-align:center;font-size:6.60px;line-height:7.92px;color:#fff;font-weight:bold;white-space:nowrap;letter-spacing:0.1px;">OPEN RISKS</div><div style="left:635px;top:266.04px;width:180.80px;text-align:center;font-size:21.60px;line-height:25.92px;color:#1c2a48;font-weight:bold;white-space:nowrap;">16</div><div style="left:635px;top:299.58px;width:180.80px;text-align:center;font-size:6.20px;line-height:7.44px;color:#959595;font-weight:normal;white-space:nowrap;">2 Critical · 5 High</div><div style="left:823.30px;top:244.20px;width:175.50px;height:15.80px;background:#27ab5e;"></div><div style="left:823.30px;top:260px;width:175.50px;height:49.20px;background:#e8f6f1;"></div><div style="left:823.30px;top:309.20px;width:175.50px;height:1.80px;background:#3db071;"></div><div style="left:823.30px;top:248.34px;width:175.50px;text-align:center;font-size:6.60px;line-height:7.92px;color:#fff;font-weight:bold;white-space:nowrap;letter-spacing:0.1px;">ACTION ITEMS</div><div style="left:823.30px;top:266.04px;width:175.50px;text-align:center;font-size:21.60px;line-height:25.92px;color:#1c2a48;font-weight:bold;white-space:nowrap;">20</div><div style="left:823.30px;top:299.58px;width:175.50px;text-align:center;font-size:6.20px;line-height:7.44px;color:#959595;font-weight:normal;white-space:nowrap;">10 Done · 3 Active · 2 Overdue</div><div style="left:1006.70px;top:244.20px;width:174.30px;height:15.80px;background:#f39c12;"></div><div style="left:1006.70px;top:260px;width:174.30px;height:49.20px;background:#fdf5e6;"></div><div style="left:1006.70px;top:309.20px;width:174.30px;height:1.80px;background:#f5b041;"></div><div style="left:1006.70px;top:248.34px;width:174.30px;text-align:center;font-size:6.60px;line-height:7.92px;color:#fff;font-weight:bold;white-space:nowrap;letter-spacing:0.1px;">BUDGET VARIANCE</div><div style="left:1006.70px;top:266.04px;width:174.30px;text-align:center;font-size:21.60px;line-height:25.92px;color:#1c2a48;font-weight:bold;white-space:nowrap;">+$54.5K</div><div style="left:1006.70px;top:299.58px;width:174.30px;text-align:center;font-size:6.20px;line-height:7.44px;color:#959595;font-weight:normal;white-space:nowrap;">1.5% Over Budget</div><div style="left:432px;top:315.64px;font-size:8.60px;line-height:10.32px;color:#2a3550;font-weight:bold;white-space:nowrap;letter-spacing:0.08px;">DECISION &amp; RISK ANALYSIS</div><div style="left:824.80px;top:315.64px;font-size:8.60px;line-height:10.32px;color:#2a3550;font-weight:bold;white-space:nowrap;letter-spacing:0.08px;">STATUS &amp; PROGRESS TRACKING</div><div style="left:418px;top:326.60px;width:372px;height:137px;border:1px solid #c9c9c9;border-radius:7px;background:#fff;"></div><div style="left:812.50px;top:326.60px;width:377.50px;height:137px;border:1px solid #c9c9c9;border-radius:7px;background:#fff;"></div><div style="left:294px;top:468.84px;width:300px;text-align:right;font-size:8.60px;line-height:10.32px;color:#2a3550;font-weight:bold;white-space:nowrap;letter-spacing:0.08px;">CATEGORY &amp; PRIORITY BREAKDOWN</div><div style="left:824.80px;top:468.84px;font-size:8.60px;line-height:10.32px;color:#2a3550;font-weight:bold;white-space:nowrap;letter-spacing:0.08px;">RISK &amp; TIMELINE OVERVIEW</div><div style="left:418px;top:480.20px;width:372px;height:137.80px;border:1px solid #c9c9c9;border-radius:7px;background:#fff;"></div><div style="left:812.50px;top:480.20px;width:377.50px;height:137.80px;border:1px solid #c9c9c9;border-radius:7px;background:#fff;"></div><div style="left:260px;top:621.64px;width:300px;text-align:right;font-size:8.60px;line-height:10.32px;color:#2a3550;font-weight:bold;white-space:nowrap;letter-spacing:0.08px;">DECISION TIMELINE &amp; IMPACT</div><div style="left:824.80px;top:621.64px;font-size:8.60px;line-height:10.32px;color:#2a3550;font-weight:bold;white-space:nowrap;letter-spacing:0.08px;">BUDGET &amp; CHANGE ORDER IMPACT</div><div style="left:418px;top:632.60px;width:372px;height:139.40px;border:1px solid #c9c9c9;border-radius:7px;background:#fff;"></div><div style="left:812.50px;top:632.60px;width:377.50px;height:139.40px;border:1px solid #c9c9c9;border-radius:7px;background:#fff;"></div><svg style="position:absolute;left:0;top:0;overflow:visible" width="1" height="1"><path d="M612.50,395.60 L612.50,343.40 A52.2,52.2 0 0 1 628.63,445.25 Z" fill="#2aae5c" stroke="#fff" stroke-width="0.6" stroke-linejoin="round"/><path d="M612.50,395.60 L628.63,445.25 A52.2,52.2 0 0 1 570.27,426.28 Z" fill="#3a91da" stroke="#fff" stroke-width="0.6" stroke-linejoin="round"/><path d="M612.50,395.60 L570.27,426.28 A52.2,52.2 0 0 1 560.30,395.60 Z" fill="#8e44ad" stroke="#fff" stroke-width="0.6" stroke-linejoin="round"/><path d="M612.50,395.60 L560.30,395.60 A52.2,52.2 0 0 1 562.85,379.47 Z" fill="#f39c12" stroke="#fff" stroke-width="0.6" stroke-linejoin="round"/><path d="M612.50,395.60 L562.85,379.47 A52.2,52.2 0 0 1 570.27,364.92 Z" fill="#98a4a6" stroke="#fff" stroke-width="0.6" stroke-linejoin="round"/><path d="M612.50,395.60 L570.27,364.92 A52.2,52.2 0 0 1 581.82,353.37 Z" fill="#e74c3c" stroke="#fff" stroke-width="0.6" stroke-linejoin="round"/><path d="M612.50,395.60 L581.82,353.37 A52.2,52.2 0 0 1 596.37,345.95 Z" fill="#e67e22" stroke="#fff" stroke-width="0.6" stroke-linejoin="round"/><path d="M612.50,395.60 L596.37,345.95 A52.2,52.2 0 0 1 612.50,343.40 Z" fill="#1abc9c" stroke="#fff" stroke-width="0.6" stroke-linejoin="round"/><path d="M997.70,395.60 L997.70,343.40 A52.2,52.2 0 0 1 997.70,447.80 Z" fill="#2aae5c" stroke="#fff" stroke-width="0.6" stroke-linejoin="round"/><path d="M997.70,395.60 L997.70,447.80 A52.2,52.2 0 0 1 955.47,426.28 Z" fill="#3a91da" stroke="#fff" stroke-width="0.6" stroke-linejoin="round"/><path d="M997.70,395.60 L955.47,426.28 A52.2,52.2 0 0 1 948.05,379.47 Z" fill="#98a4a6" stroke="#fff" stroke-width="0.6" stroke-linejoin="round"/><path d="M997.70,395.60 L948.05,379.47 A52.2,52.2 0 0 1 967.02,353.37 Z" fill="#f39c12" stroke="#fff" stroke-width="0.6" stroke-linejoin="round"/><path d="M997.70,395.60 L967.02,353.37 A52.2,52.2 0 0 1 997.70,343.40 Z" fill="#e74c3c" stroke="#fff" stroke-width="0.6" stroke-linejoin="round"/><g stroke="#7a7a7a" stroke-width="0.6" fill="none"><path d="M569,344.5 L576,346 L588,350"/><path d="M567,355.5 L572,356.5 L577,360"/><path d="M555,368.5 L565,370 L569,372"/><path d="M549,386.5 L562,387"/></g><g stroke="#6e6e6e" stroke-width="0.9"><line x1="428" y1="487.50" x2="782.7" y2="487.50"/><line x1="428" y1="508.07" x2="782.7" y2="508.07"/><line x1="428" y1="528.64" x2="782.7" y2="528.64"/><line x1="428" y1="549.21" x2="782.7" y2="549.21"/><line x1="428" y1="569.78" x2="782.7" y2="569.78"/><line x1="428" y1="590.35" x2="782.7" y2="590.35"/><line x1="428" y1="610.92" x2="782.7" y2="610.92"/><line x1="820.6" y1="488.10" x2="1130.4" y2="488.10"/><line x1="820.6" y1="500.36" x2="1130.4" y2="500.36"/><line x1="820.6" y1="512.62" x2="1130.4" y2="512.62"/><line x1="820.6" y1="524.88" x2="1130.4" y2="524.88"/><line x1="820.6" y1="537.14" x2="1130.4" y2="537.14"/><line x1="820.6" y1="549.40" x2="1130.4" y2="549.40"/><line x1="820.6" y1="561.66" x2="1130.4" y2="561.66"/><line x1="820.6" y1="573.92" x2="1130.4" y2="573.92"/><line x1="820.6" y1="586.18" x2="1130.4" y2="586.18"/><line x1="820.6" y1="598.44" x2="1130.4" y2="598.44"/><line x1="820.6" y1="610.70" x2="1130.4" y2="610.70"/><line x1="428" y1="640.40" x2="782.5" y2="640.40"/><line x1="428" y1="652.76" x2="782.5" y2="652.76"/><line x1="428" y1="665.12" x2="782.5" y2="665.12"/><line x1="428" y1="677.48" x2="782.5" y2="677.48"/><line x1="428" y1="689.84" x2="782.5" y2="689.84"/><line x1="428" y1="702.20" x2="782.5" y2="702.20"/><line x1="428" y1="714.56" x2="782.5" y2="714.56"/><line x1="428" y1="726.92" x2="782.5" y2="726.92"/><line x1="428" y1="739.28" x2="782.5" y2="739.28"/><line x1="428" y1="751.64" x2="782.5" y2="751.64"/><line x1="428" y1="764.00" x2="782.5" y2="764.00"/><line x1="820.6" y1="640.80" x2="1130.4" y2="640.80"/><line x1="820.6" y1="658.47" x2="1130.4" y2="658.47"/><line x1="820.6" y1="676.14" x2="1130.4" y2="676.14"/><line x1="820.6" y1="693.81" x2="1130.4" y2="693.81"/><line x1="820.6" y1="711.48" x2="1130.4" y2="711.48"/><line x1="820.6" y1="729.15" x2="1130.4" y2="729.15"/><line x1="820.6" y1="746.82" x2="1130.4" y2="746.82"/><line x1="820.6" y1="764.49" x2="1130.4" y2="764.49"/></g><rect x="520.7" y="570.1" width="13.40" height="40.80" fill="#3a78ad"/><rect x="554.1" y="570.1" width="13.70" height="40.80" fill="#3a78ad"/><rect x="588.4" y="570.1" width="13.50" height="40.80" fill="#3a78ad"/><rect x="622.5" y="570.1" width="13.90" height="40.80" fill="#3a78ad"/><rect x="657.1" y="570.1" width="13.40" height="40.80" fill="#3a78ad"/><rect x="690.5" y="590.6" width="13.50" height="20.30" fill="#3a78ad"/><rect x="724.6" y="590.6" width="13.50" height="20.30" fill="#3a78ad"/><rect x="758.7" y="590.6" width="13.70" height="20.30" fill="#3a78ad"/><rect x="486.8" y="570.1" width="13.50" height="40.80" fill="#3a78ad"/><rect x="452.7" y="590.6" width="13.50" height="20.30" fill="#3a78ad"/><rect x="844.8" y="586.2" width="30.00" height="24.50" fill="#e74c3c"/><rect x="921.6" y="549.4" width="29.90" height="61.30" fill="#f39c12"/><rect x="999" y="500.4" width="31.00" height="110.30" fill="#3498db"/><polyline fill="none" stroke="#2c3e6b" stroke-width="1.6" points="477,726.9 544.3,714.7 611.5,739.5 681.7,689.7 749.1,702.2"/><polyline fill="none" stroke="#2fae5f" stroke-width="1.6" points="477,751.6 544.3,739.3 611.5,727.9 681.7,727.9 749.1,739.5"/><polyline fill="none" stroke="#e05555" stroke-width="1.6" stroke-dasharray="5,4" points="477,726.9 544.3,714.7 611.5,726.9 681.7,689.8 749.1,652.8"/><line x1="585" y1="761.3" x2="604" y2="761.3" stroke="#2fae5f" stroke-width="1.6"/><line x1="646" y1="761.3" x2="665" y2="761.3" stroke="#e05555" stroke-width="1.6" stroke-dasharray="5,4"/><rect x="830.8" y="711.3" width="15.40" height="35.30" fill="#fff" stroke="#e6e6e6" stroke-width="0.8"/><rect x="867.6" y="658.7" width="12.50" height="52.60" fill="#e67e22"/><rect x="902.9" y="667.4" width="13.00" height="43.90" fill="#e67e22"/><rect x="937.8" y="711.3" width="12.20" height="2.20" fill="#fff" stroke="#e6e6e6" stroke-width="0.8"/><rect x="972.9" y="697.1" width="13.10" height="14.20" fill="#e67e22"/><rect x="1008" y="711.3" width="14.00" height="2.20" fill="#fff" stroke="#e6e6e6" stroke-width="0.8"/><rect x="1043" y="711.3" width="15.00" height="12.70" fill="#fff" stroke="#e6e6e6" stroke-width="0.8"/></svg><div style="left:640.80px;top:332.80px;font-size:7px;line-height:8.40px;color:#222;font-weight:bold;white-space:nowrap;">Decision &nbsp;Status Distribution</div><div style="left:580.80px;top:334.20px;width:4.40px;height:4.40px;background:#1abc9c;"></div><div style="left:589px;top:332.20px;font-size:7px;line-height:8.40px;color:#404040;font-weight:normal;white-space:nowrap;">On Hold; 5%</div><div style="left:519.50px;top:341.10px;width:4.40px;height:4.40px;background:#e67e22;"></div><div style="left:526.50px;top:339.10px;font-size:7px;line-height:8.40px;color:#404040;font-weight:normal;white-space:nowrap;">Escalated; 5%</div><div style="left:520px;top:352.20px;width:4.40px;height:4.40px;background:#e74c3c;"></div><div style="left:528px;top:350.20px;font-size:7px;line-height:8.40px;color:#404040;font-weight:normal;white-space:nowrap;">Rejected; &nbsp;5%</div><div style="left:506.20px;top:365.30px;width:4.40px;height:4.40px;background:#98a4a6;"></div><div style="left:514px;top:363.30px;font-size:7px;line-height:8.40px;color:#404040;font-weight:normal;white-space:nowrap;">Deferred; &nbsp;5%</div><div style="left:484px;top:383.20px;width:4.40px;height:4.40px;background:#f39c12;"></div><div style="left:491px;top:381.20px;font-size:7px;line-height:8.40px;color:#404040;font-weight:normal;white-space:nowrap;">Implemented; &nbsp;5%</div><div style="left:512.10px;top:410.60px;width:4.40px;height:4.40px;background:#8e44ad;"></div><div style="left:519px;top:408.60px;font-size:7px;line-height:8.40px;color:#404040;font-weight:normal;white-space:nowrap;">Pending; 10%</div><div style="left:614px;top:386.80px;width:60px;text-align:center;font-size:7px;line-height:8.40px;color:#1d3d22;font-weight:normal;white-space:nowrap;">Approved;</div><div style="left:614px;top:395.50px;width:60px;text-align:center;font-size:7px;line-height:8.40px;color:#1d3d22;font-weight:normal;white-space:nowrap;">45%</div><div style="left:579.60px;top:416.40px;width:60px;text-align:center;font-size:7px;line-height:8.40px;color:#1b2e4a;font-weight:normal;white-space:nowrap;">Under</div><div style="left:579.60px;top:425.60px;width:60px;text-align:center;font-size:7px;line-height:8.40px;color:#1b2e4a;font-weight:normal;white-space:nowrap;">Review;</div><div style="left:579.60px;top:434.80px;width:60px;text-align:center;font-size:7px;line-height:8.40px;color:#1b2e4a;font-weight:normal;white-space:nowrap;">20%</div><div style="left:734.50px;top:345.10px;width:4.40px;height:4.40px;background:#2aae5c;"></div><div style="left:742.20px;top:343.22px;font-size:6.80px;line-height:8.16px;color:#404040;font-weight:normal;white-space:nowrap;">Approved</div><div style="left:734.50px;top:358.80px;width:4.40px;height:4.40px;background:#3a91da;"></div><div style="left:742.20px;top:356.92px;font-size:6.80px;line-height:8.16px;color:#404040;font-weight:normal;white-space:nowrap;">Under Review</div><div style="left:734.50px;top:372.40px;width:4.40px;height:4.40px;background:#8e44ad;"></div><div style="left:742.20px;top:370.52px;font-size:6.80px;line-height:8.16px;color:#404040;font-weight:normal;white-space:nowrap;">Pending</div><div style="left:734.50px;top:386.50px;width:4.40px;height:4.40px;background:#f39c12;"></div><div style="left:742.20px;top:384.62px;font-size:6.80px;line-height:8.16px;color:#404040;font-weight:normal;white-space:nowrap;">Implemented</div><div style="left:734.50px;top:400.30px;width:4.40px;height:4.40px;background:#98a4a6;"></div><div style="left:742.20px;top:398.42px;font-size:6.80px;line-height:8.16px;color:#404040;font-weight:normal;white-space:nowrap;">Deferred</div><div style="left:734.50px;top:414.10px;width:4.40px;height:4.40px;background:#e74c3c;"></div><div style="left:742.20px;top:412.22px;font-size:6.80px;line-height:8.16px;color:#404040;font-weight:normal;white-space:nowrap;">Rejected</div><div style="left:734.50px;top:427.60px;width:4.40px;height:4.40px;background:#e67e22;"></div><div style="left:742.20px;top:425.72px;font-size:6.80px;line-height:8.16px;color:#404040;font-weight:normal;white-space:nowrap;">Escalated</div><div style="left:734.50px;top:441.20px;width:4.40px;height:4.40px;background:#1abc9c;"></div><div style="left:742.20px;top:439.32px;font-size:6.80px;line-height:8.16px;color:#404040;font-weight:normal;white-space:nowrap;">On Hold</div><div style="left:1005px;top:333.60px;font-size:7px;line-height:8.40px;color:#222;font-weight:bold;white-space:nowrap;">Action Item Status</div><div style="left:940.10px;top:336.50px;width:4.40px;height:4.40px;background:#e74c3c;"></div><div style="left:948.50px;top:334.50px;font-size:7px;line-height:8.40px;color:#404040;font-weight:normal;white-space:nowrap;">Overdue; 10%</div><div style="left:903.30px;top:357.20px;width:4.40px;height:4.40px;background:#f39c12;"></div><div style="left:912px;top:355.20px;font-size:7px;line-height:8.40px;color:#404040;font-weight:normal;white-space:nowrap;">On Hold; 10%</div><div style="left:883.30px;top:406px;width:4.40px;height:4.40px;background:#98a4a6;"></div><div style="left:891.50px;top:404px;font-size:7px;line-height:8.40px;color:#404040;font-weight:normal;white-space:nowrap;">Not Started; 15%</div><div style="left:912.80px;top:446.50px;width:4.40px;height:4.40px;background:#3a91da;"></div><div style="left:920.50px;top:444.50px;font-size:7px;line-height:8.40px;color:#404040;font-weight:normal;white-space:nowrap;">In Progress; 15%</div><div style="left:997.60px;top:392.30px;width:60px;text-align:center;font-size:7px;line-height:8.40px;color:#1d3d22;font-weight:normal;white-space:nowrap;">Completed;</div><div style="left:997.60px;top:401.30px;width:60px;text-align:center;font-size:7px;line-height:8.40px;color:#1d3d22;font-weight:normal;white-space:nowrap;">50%</div><div style="left:1134.80px;top:365.30px;width:4.40px;height:4.40px;background:#2aae5c;"></div><div style="left:1142.50px;top:363.42px;font-size:6.80px;line-height:8.16px;color:#404040;font-weight:normal;white-space:nowrap;">Completed</div><div style="left:1134.80px;top:379.10px;width:4.40px;height:4.40px;background:#3a91da;"></div><div style="left:1142.50px;top:377.22px;font-size:6.80px;line-height:8.16px;color:#404040;font-weight:normal;white-space:nowrap;">In Progress</div><div style="left:1134.80px;top:392.80px;width:4.40px;height:4.40px;background:#98a4a6;"></div><div style="left:1142.50px;top:390.92px;font-size:6.80px;line-height:8.16px;color:#404040;font-weight:normal;white-space:nowrap;">Not Started</div><div style="left:1134.80px;top:406.60px;width:4.40px;height:4.40px;background:#f39c12;"></div><div style="left:1142.50px;top:404.72px;font-size:6.80px;line-height:8.16px;color:#404040;font-weight:normal;white-space:nowrap;">On Hold</div><div style="left:1134.80px;top:420.40px;width:4.40px;height:4.40px;background:#e74c3c;"></div><div style="left:1142.50px;top:418.52px;font-size:6.80px;line-height:8.16px;color:#404040;font-weight:normal;white-space:nowrap;">Overdue</div><div style="left:512.40px;top:486.68px;width:200px;text-align:center;font-size:6.20px;line-height:7.44px;color:#222;font-weight:bold;white-space:nowrap;">Decisions &nbsp;by &nbsp;Category</div><div style="left:756.20px;top:547.30px;width:4.40px;height:4.40px;background:#3a78ad;"></div><div style="left:762px;top:545.30px;font-size:7px;line-height:8.40px;color:#222;font-weight:bold;white-space:nowrap;">Count</div><div style="left:897px;top:486.16px;width:200px;text-align:center;font-size:6.40px;line-height:7.68px;color:#222;font-weight:bold;white-space:nowrap;">Risk &nbsp;Level Distribution</div><div style="left:807px;top:545.10px;width:40px;text-align:center;font-size:6.50px;line-height:7.80px;color:#222;font-weight:bold;white-space:nowrap;transform:rotate(-90deg);">Count</div><div style="left:510.20px;top:638.84px;width:200px;text-align:center;font-size:6.60px;line-height:7.92px;color:#222;font-weight:bold;white-space:nowrap;">Monthly Decision Trend</div><div style="left:490px;top:760.50px;width:19px;height:1.50px;background:#2c3e6b;"></div><div style="left:511px;top:757.22px;font-size:6.80px;line-height:8.16px;color:#444;font-weight:normal;white-space:nowrap;">New Decisions</div><div style="left:606px;top:757.22px;font-size:6.80px;line-height:8.16px;color:#444;font-weight:normal;white-space:nowrap;">Resolved</div><div style="left:667px;top:757.22px;font-size:6.80px;line-height:8.16px;color:#444;font-weight:normal;white-space:nowrap;">Cumulative Open</div><div style="left:896.50px;top:638.84px;width:200px;text-align:center;font-size:6.60px;line-height:7.92px;color:#222;font-weight:bold;white-space:nowrap;">Budget Variance &nbsp;by Category</div><div style="left:797.40px;top:699.10px;width:60px;text-align:center;font-size:6.50px;line-height:7.80px;color:#222;font-weight:bold;white-space:nowrap;transform:rotate(-90deg);">Variance ($)</div><div style="left:284px;top:777.04px;width:300px;text-align:right;font-size:8.60px;line-height:10.32px;color:#2a3550;font-weight:bold;white-space:nowrap;letter-spacing:0.08px;">KEY METRICS SUMMARY</div><div style="left:418px;top:788.50px;width:707px;height:17.10px;background:#223764;"></div><div style="left:418px;top:792.08px;width:142.60px;text-align:center;font-size:8.20px;line-height:9.84px;color:#fff;font-weight:bold;white-space:nowrap;">Metric</div><div style="left:560.60px;top:792.08px;width:74.40px;text-align:center;font-size:8.20px;line-height:9.84px;color:#fff;font-weight:bold;white-space:nowrap;">Current Value</div><div style="left:560px;top:788.50px;width:1.20px;height:17.10px;background:#5a6f9a;"></div><div style="left:635px;top:792.08px;width:125.20px;text-align:center;font-size:8.20px;line-height:9.84px;color:#fff;font-weight:bold;white-space:nowrap;">Target</div><div style="left:634.40px;top:788.50px;width:1.20px;height:17.10px;background:#5a6f9a;"></div><div style="left:760.20px;top:792.08px;width:62.90px;text-align:center;font-size:8.20px;line-height:9.84px;color:#fff;font-weight:bold;white-space:nowrap;">Status</div><div style="left:759.60px;top:788.50px;width:1.20px;height:17.10px;background:#5a6f9a;"></div><div style="left:823.10px;top:792.08px;width:119.90px;text-align:center;font-size:8.20px;line-height:9.84px;color:#fff;font-weight:bold;white-space:nowrap;">Trend</div><div style="left:822.50px;top:788.50px;width:1.20px;height:17.10px;background:#5a6f9a;"></div><div style="left:943px;top:792.08px;width:182px;text-align:center;font-size:8.20px;line-height:9.84px;color:#fff;font-weight:bold;white-space:nowrap;">Notes</div><div style="left:942.40px;top:788.50px;width:1.20px;height:17.10px;background:#5a6f9a;"></div><div style="left:418px;top:805.60px;width:707px;height:16.54px;background:#f1f3f6;border-bottom:1px solid #e4e7ec;"></div><div style="left:760.20px;top:805.60px;width:62.90px;height:16.54px;background:#e3f6ee;"></div><div style="left:560.10px;top:805.60px;width:1px;height:16.54px;background:#dde1e7;"></div><div style="left:634.50px;top:805.60px;width:1px;height:16.54px;background:#dde1e7;"></div><div style="left:759.70px;top:805.60px;width:1px;height:16.54px;background:#dde1e7;"></div><div style="left:822.60px;top:805.60px;width:1px;height:16.54px;background:#dde1e7;"></div><div style="left:942.50px;top:805.60px;width:1px;height:16.54px;background:#dde1e7;"></div><div style="left:562.80px;top:809.19px;width:70px;text-align:center;font-size:7.80px;line-height:9.36px;color:#333;font-weight:normal;white-space:nowrap;">4.2 days avg</div><div style="left:637.60px;top:809.19px;width:120px;text-align:center;font-size:7.80px;line-height:9.36px;color:#333;font-weight:normal;white-space:nowrap;">&lt; 5 days</div><div style="left:761.65px;top:809.19px;width:60px;text-align:center;font-size:7.80px;line-height:9.36px;color:#27ae60;font-weight:normal;white-space:nowrap;">On Track</div><div style="left:828.05px;top:809.19px;width:110px;text-align:center;font-size:7.80px;line-height:9.36px;color:#333;font-weight:normal;white-space:nowrap;">↓ Improving</div><div style="left:949px;top:809.19px;font-size:7.80px;line-height:9.36px;color:#8a8a8a;font-weight:normal;white-space:nowrap;">Down from 5.8 days last month</div><div style="left:418px;top:822.14px;width:707px;height:16.54px;background:#ffffff;border-bottom:1px solid #e4e7ec;"></div><div style="left:760.20px;top:822.14px;width:62.90px;height:16.54px;background:#fff4de;"></div><div style="left:560.10px;top:822.14px;width:1px;height:16.54px;background:#dde1e7;"></div><div style="left:634.50px;top:822.14px;width:1px;height:16.54px;background:#dde1e7;"></div><div style="left:759.70px;top:822.14px;width:1px;height:16.54px;background:#dde1e7;"></div><div style="left:822.60px;top:822.14px;width:1px;height:16.54px;background:#dde1e7;"></div><div style="left:942.50px;top:822.14px;width:1px;height:16.54px;background:#dde1e7;"></div><div style="left:562.80px;top:825.73px;width:70px;text-align:center;font-size:7.80px;line-height:9.36px;color:#333;font-weight:normal;white-space:nowrap;">3</div><div style="left:637.60px;top:825.73px;width:120px;text-align:center;font-size:7.80px;line-height:9.36px;color:#333;font-weight:normal;white-space:nowrap;">&lt; 2</div><div style="left:761.65px;top:825.73px;width:60px;text-align:center;font-size:7.80px;line-height:9.36px;color:#f39c12;font-weight:normal;white-space:nowrap;">At Risk</div><div style="left:828.05px;top:825.73px;width:110px;text-align:center;font-size:7.80px;line-height:9.36px;color:#333;font-weight:normal;white-space:nowrap;">→ Stable</div><div style="left:949px;top:825.73px;font-size:7.80px;line-height:9.36px;color:#8a8a8a;font-weight:normal;white-space:nowrap;">Foundation issue pending</div><div style="left:418px;top:838.68px;width:707px;height:16.54px;background:#f1f3f6;border-bottom:1px solid #e4e7ec;"></div><div style="left:760.20px;top:838.68px;width:62.90px;height:16.54px;background:#fff4de;"></div><div style="left:560.10px;top:838.68px;width:1px;height:16.54px;background:#dde1e7;"></div><div style="left:634.50px;top:838.68px;width:1px;height:16.54px;background:#dde1e7;"></div><div style="left:759.70px;top:838.68px;width:1px;height:16.54px;background:#dde1e7;"></div><div style="left:822.60px;top:838.68px;width:1px;height:16.54px;background:#dde1e7;"></div><div style="left:942.50px;top:838.68px;width:1px;height:16.54px;background:#dde1e7;"></div><div style="left:562.80px;top:842.27px;width:70px;text-align:center;font-size:7.80px;line-height:9.36px;color:#333;font-weight:normal;white-space:nowrap;">78%</div><div style="left:637.60px;top:842.27px;width:120px;text-align:center;font-size:7.80px;line-height:9.36px;color:#333;font-weight:normal;white-space:nowrap;">&gt; 85%</div><div style="left:761.65px;top:842.27px;width:60px;text-align:center;font-size:7.80px;line-height:9.36px;color:#f39c12;font-weight:normal;white-space:nowrap;">At Risk</div><div style="left:828.05px;top:842.27px;width:110px;text-align:center;font-size:7.80px;line-height:9.36px;color:#333;font-weight:normal;white-space:nowrap;">↑ Improving</div><div style="left:949px;top:842.27px;font-size:7.80px;line-height:9.36px;color:#8a8a8a;font-weight:normal;white-space:nowrap;">Up from 65% last quarter</div><div style="left:418px;top:855.22px;width:707px;height:16.54px;background:#ffffff;border-bottom:1px solid #e4e7ec;"></div><div style="left:760.20px;top:855.22px;width:62.90px;height:16.54px;background:#e3f6ee;"></div><div style="left:560.10px;top:855.22px;width:1px;height:16.54px;background:#dde1e7;"></div><div style="left:634.50px;top:855.22px;width:1px;height:16.54px;background:#dde1e7;"></div><div style="left:759.70px;top:855.22px;width:1px;height:16.54px;background:#dde1e7;"></div><div style="left:822.60px;top:855.22px;width:1px;height:16.54px;background:#dde1e7;"></div><div style="left:942.50px;top:855.22px;width:1px;height:16.54px;background:#dde1e7;"></div><div style="left:562.80px;top:858.81px;width:70px;text-align:center;font-size:7.80px;line-height:9.36px;color:#333;font-weight:normal;white-space:nowrap;">94.2%</div><div style="left:637.60px;top:858.81px;width:120px;text-align:center;font-size:7.80px;line-height:9.36px;color:#333;font-weight:normal;white-space:nowrap;">&lt; 100%</div><div style="left:761.65px;top:858.81px;width:60px;text-align:center;font-size:7.80px;line-height:9.36px;color:#27ae60;font-weight:normal;white-space:nowrap;">On Track</div><div style="left:828.05px;top:858.81px;width:110px;text-align:center;font-size:7.80px;line-height:9.36px;color:#333;font-weight:normal;white-space:nowrap;">→ Stable</div><div style="left:949px;top:858.81px;font-size:7.80px;line-height:9.36px;color:#8a8a8a;font-weight:normal;white-space:nowrap;">Within contingency threshold</div><div style="left:418px;top:871.76px;width:707px;height:16.54px;background:#f1f3f6;border-bottom:1px solid #e4e7ec;"></div><div style="left:760.20px;top:871.76px;width:62.90px;height:16.54px;background:#fff4de;"></div><div style="left:560.10px;top:871.76px;width:1px;height:16.54px;background:#dde1e7;"></div><div style="left:634.50px;top:871.76px;width:1px;height:16.54px;background:#dde1e7;"></div><div style="left:759.70px;top:871.76px;width:1px;height:16.54px;background:#dde1e7;"></div><div style="left:822.60px;top:871.76px;width:1px;height:16.54px;background:#dde1e7;"></div><div style="left:942.50px;top:871.76px;width:1px;height:16.54px;background:#dde1e7;"></div><div style="left:562.80px;top:875.35px;width:70px;text-align:center;font-size:7.80px;line-height:9.36px;color:#333;font-weight:normal;white-space:nowrap;">60%</div><div style="left:637.60px;top:875.35px;width:120px;text-align:center;font-size:7.80px;line-height:9.36px;color:#333;font-weight:normal;white-space:nowrap;">&gt; 80%</div><div style="left:761.65px;top:875.35px;width:60px;text-align:center;font-size:7.80px;line-height:9.36px;color:#f39c12;font-weight:normal;white-space:nowrap;">At Risk</div><div style="left:828.05px;top:875.35px;width:110px;text-align:center;font-size:7.80px;line-height:9.36px;color:#333;font-weight:normal;white-space:nowrap;">↑ Improving</div><div style="left:949px;top:875.35px;font-size:7.80px;line-height:9.36px;color:#8a8a8a;font-weight:normal;white-space:nowrap;">12 of 20 complete, 8 in progress</div><div style="left:418px;top:888.30px;width:707px;height:16.54px;background:#ffffff;border-bottom:1px solid #e4e7ec;"></div><div style="left:760.20px;top:888.30px;width:62.90px;height:16.54px;background:#fff4de;"></div><div style="left:560.10px;top:888.30px;width:1px;height:16.54px;background:#dde1e7;"></div><div style="left:634.50px;top:888.30px;width:1px;height:16.54px;background:#dde1e7;"></div><div style="left:759.70px;top:888.30px;width:1px;height:16.54px;background:#dde1e7;"></div><div style="left:822.60px;top:888.30px;width:1px;height:16.54px;background:#dde1e7;"></div><div style="left:942.50px;top:888.30px;width:1px;height:16.54px;background:#dde1e7;"></div><div style="left:562.80px;top:891.89px;width:70px;text-align:center;font-size:7.80px;line-height:9.36px;color:#333;font-weight:normal;white-space:nowrap;">87%</div><div style="left:637.60px;top:891.89px;width:120px;text-align:center;font-size:7.80px;line-height:9.36px;color:#333;font-weight:normal;white-space:nowrap;">&gt; 90%</div><div style="left:761.65px;top:891.89px;width:60px;text-align:center;font-size:7.80px;line-height:9.36px;color:#f39c12;font-weight:normal;white-space:nowrap;">At Risk</div><div style="left:828.05px;top:891.89px;width:110px;text-align:center;font-size:7.80px;line-height:9.36px;color:#333;font-weight:normal;white-space:nowrap;">↓ Declining</div><div style="left:949px;top:891.89px;font-size:7.80px;line-height:9.36px;color:#8a8a8a;font-weight:normal;white-space:nowrap;">2 milestones off track</div><div style="left:418px;top:904.84px;width:707px;height:16.54px;background:#f1f3f6;border-bottom:1px solid #e4e7ec;"></div><div style="left:760.20px;top:904.84px;width:62.90px;height:16.54px;background:#e3f6ee;"></div><div style="left:560.10px;top:904.84px;width:1px;height:16.54px;background:#dde1e7;"></div><div style="left:634.50px;top:904.84px;width:1px;height:16.54px;background:#dde1e7;"></div><div style="left:759.70px;top:904.84px;width:1px;height:16.54px;background:#dde1e7;"></div><div style="left:822.60px;top:904.84px;width:1px;height:16.54px;background:#dde1e7;"></div><div style="left:942.50px;top:904.84px;width:1px;height:16.54px;background:#dde1e7;"></div><div style="left:562.80px;top:908.43px;width:70px;text-align:center;font-size:7.80px;line-height:9.36px;color:#333;font-weight:normal;white-space:nowrap;">High</div><div style="left:637.60px;top:908.43px;width:120px;text-align:center;font-size:7.80px;line-height:9.36px;color:#333;font-weight:normal;white-space:nowrap;">High</div><div style="left:761.65px;top:908.43px;width:60px;text-align:center;font-size:7.80px;line-height:9.36px;color:#27ae60;font-weight:normal;white-space:nowrap;">On Track</div><div style="left:828.05px;top:908.43px;width:110px;text-align:center;font-size:7.80px;line-height:9.36px;color:#333;font-weight:normal;white-space:nowrap;">→ Stable</div><div style="left:949px;top:908.43px;font-size:7.80px;line-height:9.36px;color:#8a8a8a;font-weight:normal;white-space:nowrap;">Based on last steering committee</div><div style="left:418px;top:921.38px;width:707px;height:16.54px;background:#ffffff;border-bottom:1px solid #e4e7ec;"></div><div style="left:760.20px;top:921.38px;width:62.90px;height:16.54px;background:#e3f6ee;"></div><div style="left:560.10px;top:921.38px;width:1px;height:16.54px;background:#dde1e7;"></div><div style="left:634.50px;top:921.38px;width:1px;height:16.54px;background:#dde1e7;"></div><div style="left:759.70px;top:921.38px;width:1px;height:16.54px;background:#dde1e7;"></div><div style="left:822.60px;top:921.38px;width:1px;height:16.54px;background:#dde1e7;"></div><div style="left:942.50px;top:921.38px;width:1px;height:16.54px;background:#dde1e7;"></div><div style="left:562.80px;top:924.97px;width:70px;text-align:center;font-size:7.80px;line-height:9.36px;color:#333;font-weight:normal;white-space:nowrap;">7 COs</div><div style="left:637.60px;top:924.97px;width:120px;text-align:center;font-size:7.80px;line-height:9.36px;color:#333;font-weight:normal;white-space:nowrap;">&lt; 10</div><div style="left:761.65px;top:924.97px;width:60px;text-align:center;font-size:7.80px;line-height:9.36px;color:#27ae60;font-weight:normal;white-space:nowrap;">On Track</div><div style="left:828.05px;top:924.97px;width:110px;text-align:center;font-size:7.80px;line-height:9.36px;color:#333;font-weight:normal;white-space:nowrap;">→ Stable</div><div style="left:949px;top:924.97px;font-size:7.80px;line-height:9.36px;color:#8a8a8a;font-weight:normal;white-space:nowrap;">See Change Orders sheet</div><div style="left:558px;top:951.22px;width:500px;text-align:center;font-size:6.30px;line-height:7.56px;color:#a0a0a0;font-weight:normal;white-space:nowrap;font-style:italic;">© 2026 Construction Decision Log Template &nbsp;|&nbsp; All Copy Rights Reserved to TDraftSale.com</div></div></div>
<svg style="position:absolute;left:0;top:0" width="1500" height="1124" viewBox="0 0 1500 1124">
<circle cx="597.4" cy="916.6" r="40.3" fill="#b9a295"/>
<circle cx="693" cy="916.6" r="40.3" fill="#b9a295"/>
<g fill="none" stroke="#fffaf6" stroke-width="3.4" stroke-linecap="round" stroke-linejoin="round">
<path d="M597.2,891.6 V932.2"/>
<path d="M587.2,921.3 L597.2,932.6 L606.6,921.3"/>
<path d="M574.1,924 V935.5 Q574.1,939.2 577.8,939.2 H616.8 Q620.5,939.2 620.5,935.5 V924"/>
</g>
<g fill="none" stroke="#fffaf6" stroke-width="1.75" stroke-linejoin="round">
<rect x="681.4" y="892" width="26.6" height="12"/>
<path d="M678.3,904 V900.5 Q678.3,898.8 680,898.8 H681.4 M708,898.8 H709.6 Q711.3,898.8 711.3,900.5 V904"/>
<path d="M678.7,927.2 H672.9 Q670.9,927.2 670.9,925.2 V906.6 Q670.9,904.6 672.9,904.6 H716.9 Q718.9,904.6 718.9,906.6 V925.2 Q718.9,927.2 716.9,927.2 H711.3"/>
<path d="M678.7,927.2 V922 Q678.7,919.6 681.1,919.6 H708.9 Q711.3,919.6 711.3,922 V927.2"/>
<rect x="681.4" y="922.6" width="26.6" height="17.3" fill="#b9a295"/>
<rect x="673.9" y="907.6" width="3.6" height="3.6"/>
<rect x="706" y="908.4" width="9.2" height="2.8"/>
</g>
<g stroke="#fffaf6" stroke-width="1.5"><path d="M690,926.1 H702.8 M686.8,929.6 H702.8 M686.8,933.5 H702.8"/></g>
</svg>
<div style="left:0px;top:998.80px;width:1500px;height:125.20px;background:#b9a295;"></div>
<div class="b" id="band0" style="left:4.7px;top:1029.53px;font-size:24.5px;line-height:28.17px;font-weight:bold;color:#fdf9f5;white-space:nowrap;transform-origin:0 0;transform:scaleX(1.0935);">A complete Project Decision Log Template Excel Dashboard for construction teams to track approvals, risks, issues,</div>
<div class="b" id="band1" style="left:41.2px;top:1063.63px;font-size:24.5px;line-height:28.17px;font-weight:bold;color:#fdf9f5;white-space:nowrap;transform-origin:0 0;transform:scaleX(1.1033);">change orders, budget impact, milestones, actions, meetings, stakeholders, and documents in one workbook.</div>
</body></html>
